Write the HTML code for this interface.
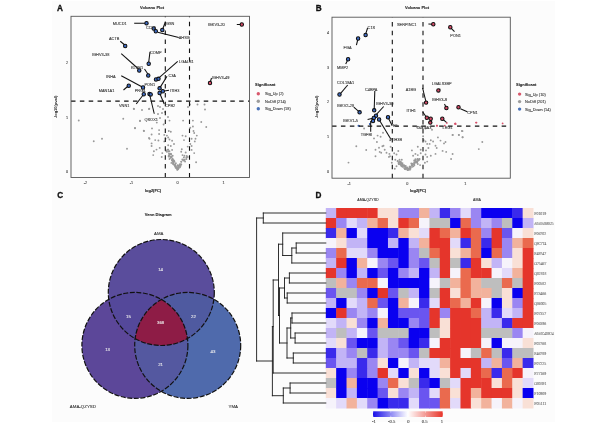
<!DOCTYPE html><html><head><meta charset="utf-8"><style>html,body{margin:0;padding:0;background:#fff;}svg{display:block;}</style></head><body>
<div style="position:absolute;left:0;top:0;width:600px;height:423px;will-change:transform">
<svg width="600" height="423" viewBox="0 0 600 423" font-family="'Liberation Sans', sans-serif">
<rect width="600" height="423" fill="#fff"/>
<rect x="52" y="1" width="503" height="421" fill="#fcfcfc"/>
<text transform="translate(57.00,11.00) scale(0.1)" font-size="82.0" text-anchor="start" fill="#111" stroke="#111" stroke-width="3" font-weight="bold">A</text>
<text transform="translate(315.80,11.00) scale(0.1)" font-size="82.0" text-anchor="start" fill="#111" stroke="#111" stroke-width="3" font-weight="bold">B</text>
<text transform="translate(57.30,198.30) scale(0.1)" font-size="82.0" text-anchor="start" fill="#111" stroke="#111" stroke-width="3" font-weight="bold">C</text>
<text transform="translate(315.50,198.00) scale(0.1)" font-size="82.0" text-anchor="start" fill="#111" stroke="#111" stroke-width="3" font-weight="bold">D</text>
<text transform="translate(152.00,8.50) scale(0.1)" font-size="40.0" text-anchor="middle" fill="#222" stroke="#222" stroke-width="0.9" font-weight="bold">Volcano Plot</text>
<circle cx="134.00" cy="109.00" r="0.95" fill="#999999"/>
<circle cx="142.00" cy="110.00" r="0.95" fill="#999999"/>
<circle cx="149.00" cy="109.00" r="0.95" fill="#999999"/>
<circle cx="140.00" cy="121.00" r="0.95" fill="#999999"/>
<circle cx="135.00" cy="128.00" r="0.95" fill="#999999"/>
<circle cx="144.00" cy="131.00" r="0.95" fill="#999999"/>
<circle cx="149.00" cy="138.00" r="0.95" fill="#999999"/>
<circle cx="158.00" cy="106.00" r="0.95" fill="#999999"/>
<circle cx="160.00" cy="107.00" r="0.95" fill="#999999"/>
<circle cx="163.00" cy="109.00" r="0.95" fill="#999999"/>
<circle cx="158.00" cy="114.00" r="0.95" fill="#999999"/>
<circle cx="162.00" cy="113.00" r="0.95" fill="#999999"/>
<circle cx="168.00" cy="117.00" r="0.95" fill="#999999"/>
<circle cx="188.00" cy="107.00" r="0.95" fill="#999999"/>
<circle cx="78.75" cy="120.50" r="0.95" fill="#999999"/>
<circle cx="93.75" cy="141.25" r="0.95" fill="#999999"/>
<circle cx="102.00" cy="138.75" r="0.95" fill="#999999"/>
<circle cx="127.00" cy="148.75" r="0.95" fill="#999999"/>
<circle cx="123.25" cy="118.75" r="0.95" fill="#999999"/>
<circle cx="133.75" cy="108.75" r="0.95" fill="#999999"/>
<circle cx="140.00" cy="120.75" r="0.95" fill="#999999"/>
<circle cx="135.00" cy="128.25" r="0.95" fill="#999999"/>
<circle cx="143.75" cy="130.75" r="0.95" fill="#999999"/>
<circle cx="149.25" cy="108.75" r="0.95" fill="#999999"/>
<circle cx="149.50" cy="138.75" r="0.95" fill="#999999"/>
<circle cx="197.50" cy="104.50" r="0.95" fill="#999999"/>
<circle cx="204.50" cy="104.50" r="0.95" fill="#999999"/>
<circle cx="205.00" cy="109.50" r="0.95" fill="#999999"/>
<circle cx="190.00" cy="104.50" r="0.95" fill="#999999"/>
<circle cx="201.25" cy="122.00" r="0.95" fill="#999999"/>
<circle cx="206.25" cy="127.00" r="0.95" fill="#999999"/>
<circle cx="160.00" cy="118.00" r="0.95" fill="#999999"/>
<circle cx="165.00" cy="112.00" r="0.95" fill="#999999"/>
<circle cx="152.00" cy="128.40" r="0.95" fill="#999999"/>
<circle cx="159.10" cy="130.10" r="0.95" fill="#999999"/>
<circle cx="151.60" cy="134.50" r="0.95" fill="#999999"/>
<circle cx="159.10" cy="134.00" r="0.95" fill="#999999"/>
<circle cx="155.20" cy="140.10" r="0.95" fill="#999999"/>
<circle cx="158.40" cy="140.50" r="0.95" fill="#999999"/>
<circle cx="151.60" cy="143.40" r="0.95" fill="#999999"/>
<circle cx="151.60" cy="146.00" r="0.95" fill="#999999"/>
<circle cx="153.90" cy="151.20" r="0.95" fill="#999999"/>
<circle cx="156.50" cy="149.60" r="0.95" fill="#999999"/>
<circle cx="159.70" cy="147.90" r="0.95" fill="#999999"/>
<circle cx="153.20" cy="155.10" r="0.95" fill="#999999"/>
<circle cx="162.30" cy="153.10" r="0.95" fill="#999999"/>
<circle cx="161.70" cy="157.00" r="0.95" fill="#999999"/>
<circle cx="156.80" cy="122.60" r="0.95" fill="#999999"/>
<circle cx="163.60" cy="124.50" r="0.95" fill="#999999"/>
<circle cx="169.50" cy="120.60" r="0.95" fill="#999999"/>
<circle cx="164.30" cy="134.90" r="0.95" fill="#999999"/>
<circle cx="168.80" cy="131.00" r="0.95" fill="#999999"/>
<circle cx="170.80" cy="131.70" r="0.95" fill="#999999"/>
<circle cx="166.90" cy="135.60" r="0.95" fill="#999999"/>
<circle cx="168.20" cy="137.50" r="0.95" fill="#999999"/>
<circle cx="169.50" cy="139.50" r="0.95" fill="#999999"/>
<circle cx="172.10" cy="140.80" r="0.95" fill="#999999"/>
<circle cx="165.60" cy="138.80" r="0.95" fill="#999999"/>
<circle cx="164.30" cy="141.40" r="0.95" fill="#999999"/>
<circle cx="168.20" cy="145.30" r="0.95" fill="#999999"/>
<circle cx="170.80" cy="146.00" r="0.95" fill="#999999"/>
<circle cx="174.00" cy="144.00" r="0.95" fill="#999999"/>
<circle cx="172.10" cy="149.90" r="0.95" fill="#999999"/>
<circle cx="169.50" cy="151.20" r="0.95" fill="#999999"/>
<circle cx="166.90" cy="151.80" r="0.95" fill="#999999"/>
<circle cx="170.80" cy="153.80" r="0.95" fill="#999999"/>
<circle cx="168.80" cy="155.70" r="0.95" fill="#999999"/>
<circle cx="172.70" cy="155.70" r="0.95" fill="#999999"/>
<circle cx="170.80" cy="157.70" r="0.95" fill="#999999"/>
<circle cx="169.50" cy="159.00" r="0.95" fill="#999999"/>
<circle cx="172.10" cy="160.30" r="0.95" fill="#999999"/>
<circle cx="174.00" cy="161.60" r="0.95" fill="#999999"/>
<circle cx="171.40" cy="162.90" r="0.95" fill="#999999"/>
<circle cx="173.40" cy="164.20" r="0.95" fill="#999999"/>
<circle cx="175.30" cy="165.50" r="0.95" fill="#999999"/>
<circle cx="176.00" cy="167.40" r="0.95" fill="#999999"/>
<circle cx="177.30" cy="169.40" r="0.95" fill="#999999"/>
<circle cx="178.60" cy="168.10" r="0.95" fill="#999999"/>
<circle cx="180.50" cy="166.10" r="0.95" fill="#999999"/>
<circle cx="179.90" cy="164.20" r="0.95" fill="#999999"/>
<circle cx="181.20" cy="161.60" r="0.95" fill="#999999"/>
<circle cx="183.10" cy="160.30" r="0.95" fill="#999999"/>
<circle cx="185.10" cy="161.60" r="0.95" fill="#999999"/>
<circle cx="186.40" cy="159.00" r="0.95" fill="#999999"/>
<circle cx="184.40" cy="155.70" r="0.95" fill="#999999"/>
<circle cx="182.50" cy="155.10" r="0.95" fill="#999999"/>
<circle cx="181.20" cy="151.80" r="0.95" fill="#999999"/>
<circle cx="181.80" cy="149.20" r="0.95" fill="#999999"/>
<circle cx="185.70" cy="152.50" r="0.95" fill="#999999"/>
<circle cx="187.70" cy="157.00" r="0.95" fill="#999999"/>
<circle cx="182.50" cy="135.60" r="0.95" fill="#999999"/>
<circle cx="185.70" cy="136.20" r="0.95" fill="#999999"/>
<circle cx="184.00" cy="140.10" r="0.95" fill="#999999"/>
<circle cx="190.30" cy="127.80" r="0.95" fill="#999999"/>
<circle cx="192.90" cy="126.50" r="0.95" fill="#999999"/>
<circle cx="193.50" cy="131.00" r="0.95" fill="#999999"/>
<circle cx="194.20" cy="133.00" r="0.95" fill="#999999"/>
<circle cx="196.80" cy="135.60" r="0.95" fill="#999999"/>
<circle cx="195.50" cy="138.80" r="0.95" fill="#999999"/>
<circle cx="194.80" cy="141.40" r="0.95" fill="#999999"/>
<circle cx="191.60" cy="138.80" r="0.95" fill="#999999"/>
<circle cx="190.30" cy="144.00" r="0.95" fill="#999999"/>
<circle cx="191.60" cy="146.00" r="0.95" fill="#999999"/>
<circle cx="187.70" cy="146.60" r="0.95" fill="#999999"/>
<circle cx="191.60" cy="149.90" r="0.95" fill="#999999"/>
<circle cx="194.20" cy="153.10" r="0.95" fill="#999999"/>
<circle cx="196.10" cy="162.20" r="0.95" fill="#999999"/>
<circle cx="183.10" cy="120.60" r="0.95" fill="#999999"/>
<circle cx="192.90" cy="120.60" r="0.95" fill="#999999"/>
<circle cx="169.64" cy="154.21" r="0.95" fill="#999999"/>
<circle cx="173.74" cy="160.43" r="0.95" fill="#999999"/>
<circle cx="168.22" cy="149.67" r="0.95" fill="#999999"/>
<circle cx="171.05" cy="154.38" r="0.95" fill="#999999"/>
<circle cx="175.71" cy="166.23" r="0.95" fill="#999999"/>
<circle cx="169.01" cy="153.75" r="0.95" fill="#999999"/>
<circle cx="173.27" cy="160.35" r="0.95" fill="#999999"/>
<circle cx="168.50" cy="151.44" r="0.95" fill="#999999"/>
<circle cx="168.66" cy="156.60" r="0.95" fill="#999999"/>
<circle cx="172.66" cy="159.89" r="0.95" fill="#999999"/>
<circle cx="175.85" cy="163.32" r="0.95" fill="#999999"/>
<circle cx="175.23" cy="166.26" r="0.95" fill="#999999"/>
<circle cx="174.94" cy="165.82" r="0.95" fill="#999999"/>
<circle cx="170.77" cy="153.97" r="0.95" fill="#999999"/>
<circle cx="172.94" cy="161.92" r="0.95" fill="#999999"/>
<circle cx="170.57" cy="157.54" r="0.95" fill="#999999"/>
<circle cx="174.43" cy="161.54" r="0.95" fill="#999999"/>
<circle cx="177.89" cy="168.83" r="0.95" fill="#999999"/>
<circle cx="172.97" cy="163.62" r="0.95" fill="#999999"/>
<circle cx="178.42" cy="168.49" r="0.95" fill="#999999"/>
<circle cx="173.57" cy="164.36" r="0.95" fill="#999999"/>
<circle cx="172.33" cy="159.85" r="0.95" fill="#999999"/>
<circle cx="177.53" cy="165.24" r="0.95" fill="#999999"/>
<circle cx="175.12" cy="164.37" r="0.95" fill="#999999"/>
<circle cx="170.95" cy="156.48" r="0.95" fill="#999999"/>
<circle cx="167.83" cy="149.75" r="0.95" fill="#999999"/>
<circle cx="174.00" cy="164.56" r="0.95" fill="#999999"/>
<circle cx="177.31" cy="169.83" r="0.95" fill="#999999"/>
<circle cx="168.90" cy="156.12" r="0.95" fill="#999999"/>
<circle cx="166.36" cy="150.38" r="0.95" fill="#999999"/>
<circle cx="172.31" cy="160.50" r="0.95" fill="#999999"/>
<circle cx="175.52" cy="167.59" r="0.95" fill="#999999"/>
<circle cx="176.02" cy="166.94" r="0.95" fill="#999999"/>
<circle cx="172.92" cy="160.11" r="0.95" fill="#999999"/>
<circle cx="173.26" cy="161.68" r="0.95" fill="#999999"/>
<circle cx="172.10" cy="160.16" r="0.95" fill="#999999"/>
<circle cx="168.86" cy="155.66" r="0.95" fill="#999999"/>
<circle cx="172.63" cy="158.73" r="0.95" fill="#999999"/>
<circle cx="171.62" cy="156.74" r="0.95" fill="#999999"/>
<circle cx="173.89" cy="160.64" r="0.95" fill="#999999"/>
<circle cx="173.48" cy="162.35" r="0.95" fill="#999999"/>
<circle cx="171.36" cy="157.27" r="0.95" fill="#999999"/>
<circle cx="165.83" cy="150.84" r="0.95" fill="#999999"/>
<circle cx="176.32" cy="168.20" r="0.95" fill="#999999"/>
<circle cx="172.65" cy="160.93" r="0.95" fill="#999999"/>
<circle cx="179.79" cy="165.16" r="0.95" fill="#999999"/>
<circle cx="179.71" cy="165.75" r="0.95" fill="#999999"/>
<circle cx="177.92" cy="169.21" r="0.95" fill="#999999"/>
<circle cx="179.36" cy="165.70" r="0.95" fill="#999999"/>
<circle cx="178.65" cy="165.74" r="0.95" fill="#999999"/>
<circle cx="182.32" cy="159.50" r="0.95" fill="#999999"/>
<circle cx="181.27" cy="164.51" r="0.95" fill="#999999"/>
<circle cx="183.85" cy="157.49" r="0.95" fill="#999999"/>
<circle cx="184.10" cy="160.43" r="0.95" fill="#999999"/>
<circle cx="178.35" cy="166.15" r="0.95" fill="#999999"/>
<circle cx="179.98" cy="167.33" r="0.95" fill="#999999"/>
<circle cx="178.44" cy="167.35" r="0.95" fill="#999999"/>
<circle cx="183.81" cy="160.28" r="0.95" fill="#999999"/>
<circle cx="178.02" cy="168.02" r="0.95" fill="#999999"/>
<circle cx="179.37" cy="165.28" r="0.95" fill="#999999"/>
<circle cx="180.81" cy="164.55" r="0.95" fill="#999999"/>
<circle cx="177.44" cy="168.04" r="0.95" fill="#999999"/>
<circle cx="186.34" cy="157.40" r="0.95" fill="#999999"/>
<circle cx="186.77" cy="155.98" r="0.95" fill="#999999"/>
<circle cx="184.78" cy="159.70" r="0.95" fill="#999999"/>
<circle cx="181.32" cy="161.87" r="0.95" fill="#999999"/>
<circle cx="178.22" cy="166.26" r="0.95" fill="#999999"/>
<line x1="165.30" y1="177.50" x2="165.30" y2="16.30" stroke="#111" stroke-width="1.1" stroke-dasharray="4.5,4.4"/>
<line x1="189.50" y1="177.50" x2="189.50" y2="16.30" stroke="#111" stroke-width="1.1" stroke-dasharray="4.5,4.4"/>
<line x1="71.00" y1="101.10" x2="249.50" y2="101.10" stroke="#111" stroke-width="1.1" stroke-dasharray="4.5,4.35"/>
<rect x="71" y="16.3" width="178.5" height="161.2" fill="none" stroke="#555" stroke-width="0.9"/>
<text transform="translate(85.50,184.30) scale(0.1)" font-size="38.0" text-anchor="middle" fill="#444" stroke="#444" stroke-width="0.9">-2</text>
<text transform="translate(131.50,184.30) scale(0.1)" font-size="38.0" text-anchor="middle" fill="#444" stroke="#444" stroke-width="0.9">-1</text>
<text transform="translate(177.50,184.30) scale(0.1)" font-size="38.0" text-anchor="middle" fill="#444" stroke="#444" stroke-width="0.9">0</text>
<text transform="translate(223.50,184.30) scale(0.1)" font-size="38.0" text-anchor="middle" fill="#444" stroke="#444" stroke-width="0.9">1</text>
<text transform="translate(68.00,173.40) scale(0.1)" font-size="38.0" text-anchor="end" fill="#444" stroke="#444" stroke-width="0.9">0</text>
<text transform="translate(68.00,118.90) scale(0.1)" font-size="38.0" text-anchor="end" fill="#444" stroke="#444" stroke-width="0.9">1</text>
<text transform="translate(68.00,64.40) scale(0.1)" font-size="38.0" text-anchor="end" fill="#444" stroke="#444" stroke-width="0.9">2</text>
<text transform="translate(153.00,191.50) scale(0.1)" font-size="40.0" text-anchor="middle" fill="#222" stroke="#222" stroke-width="0.9" font-weight="bold">log2(FC)</text>
<text x="0" y="0" font-size="4" font-weight="bold" text-anchor="middle" fill="#222" transform="translate(57.2,107) rotate(-90)">-log10(pval)</text>
<line x1="134.20" y1="23.25" x2="145.00" y2="23.25" stroke="#111" stroke-width="1.05"/>
<line x1="165.50" y1="21.75" x2="162.30" y2="30.00" stroke="#111" stroke-width="1.05"/>
<line x1="157.70" y1="32.25" x2="178.75" y2="37.50" stroke="#111" stroke-width="1.05"/>
<line x1="120.25" y1="41.25" x2="124.75" y2="45.00" stroke="#111" stroke-width="1.05"/>
<line x1="150.00" y1="51.75" x2="148.70" y2="62.25" stroke="#111" stroke-width="1.05"/>
<line x1="121.25" y1="53.70" x2="138.50" y2="69.00" stroke="#111" stroke-width="1.05"/>
<line x1="144.50" y1="69.00" x2="148.25" y2="74.50" stroke="#111" stroke-width="1.05"/>
<line x1="121.25" y1="75.75" x2="142.25" y2="87.00" stroke="#111" stroke-width="1.05"/>
<line x1="177.70" y1="61.40" x2="159.20" y2="77.70" stroke="#111" stroke-width="1.05"/>
<line x1="123.50" y1="90.00" x2="128.75" y2="85.50" stroke="#111" stroke-width="1.05"/>
<line x1="136.25" y1="104.00" x2="143.50" y2="94.50" stroke="#111" stroke-width="1.05"/>
<line x1="149.50" y1="94.00" x2="154.25" y2="113.75" stroke="#111" stroke-width="1.05"/>
<line x1="167.00" y1="76.30" x2="160.00" y2="87.60" stroke="#111" stroke-width="1.05"/>
<line x1="169.00" y1="90.20" x2="162.80" y2="91.20" stroke="#111" stroke-width="1.05"/>
<line x1="159.60" y1="93.00" x2="164.20" y2="104.00" stroke="#111" stroke-width="1.05"/>
<line x1="236.80" y1="24.50" x2="241.80" y2="24.50" stroke="#111" stroke-width="1.05"/>
<line x1="210.00" y1="83.00" x2="211.50" y2="78.00" stroke="#111" stroke-width="1.05"/>
<circle cx="146.50" cy="23.25" r="1.7" fill="#3f6cc4" stroke="#0d0d0d" stroke-width="1.05"/>
<circle cx="153.70" cy="28.50" r="1.7" fill="#3f6cc4" stroke="#0d0d0d" stroke-width="1.05"/>
<circle cx="155.80" cy="31.20" r="1.7" fill="#3f6cc4" stroke="#0d0d0d" stroke-width="1.05"/>
<circle cx="162.30" cy="30.00" r="1.7" fill="#3f6cc4" stroke="#0d0d0d" stroke-width="1.05"/>
<circle cx="125.20" cy="46.00" r="1.7" fill="#3f6cc4" stroke="#0d0d0d" stroke-width="1.05"/>
<circle cx="148.70" cy="63.75" r="1.7" fill="#3f6cc4" stroke="#0d0d0d" stroke-width="1.05"/>
<circle cx="139.25" cy="70.50" r="1.7" fill="#3f6cc4" stroke="#0d0d0d" stroke-width="1.05"/>
<circle cx="148.25" cy="75.45" r="1.7" fill="#3f6cc4" stroke="#0d0d0d" stroke-width="1.05"/>
<circle cx="156.00" cy="79.40" r="1.7" fill="#3f6cc4" stroke="#0d0d0d" stroke-width="1.05"/>
<circle cx="158.50" cy="78.80" r="1.7" fill="#3f6cc4" stroke="#0d0d0d" stroke-width="1.05"/>
<circle cx="128.75" cy="85.70" r="1.7" fill="#3f6cc4" stroke="#0d0d0d" stroke-width="1.05"/>
<circle cx="143.00" cy="87.50" r="1.7" fill="#3f6cc4" stroke="#0d0d0d" stroke-width="1.05"/>
<circle cx="159.60" cy="88.30" r="1.7" fill="#3f6cc4" stroke="#0d0d0d" stroke-width="1.05"/>
<circle cx="143.75" cy="94.25" r="1.7" fill="#3f6cc4" stroke="#0d0d0d" stroke-width="1.05"/>
<circle cx="149.50" cy="94.00" r="1.7" fill="#3f6cc4" stroke="#0d0d0d" stroke-width="1.05"/>
<circle cx="162.80" cy="91.20" r="1.7" fill="#3f6cc4" stroke="#0d0d0d" stroke-width="1.05"/>
<circle cx="159.60" cy="93.00" r="1.7" fill="#3f6cc4" stroke="#0d0d0d" stroke-width="1.05"/>
<circle cx="150.70" cy="94.40" r="1.7" fill="#3f6cc4" stroke="#0d0d0d" stroke-width="1.05"/>
<circle cx="241.80" cy="24.50" r="1.7" fill="#d84a68" stroke="#0d0d0d" stroke-width="1.05"/>
<circle cx="210.00" cy="83.00" r="1.7" fill="#d84a68" stroke="#0d0d0d" stroke-width="1.05"/>
<text transform="translate(112.80,25.20) scale(0.1)" font-size="39.0" text-anchor="start" fill="#333" stroke="#333" stroke-width="0.9">MUCD1</text>
<text transform="translate(146.00,28.60) scale(0.1)" font-size="39.0" text-anchor="start" fill="#333" stroke="#333" stroke-width="0.9">CCL5</text>
<text transform="translate(166.00,25.20) scale(0.1)" font-size="39.0" text-anchor="start" fill="#333" stroke="#333" stroke-width="0.9">GSN</text>
<text transform="translate(178.75,39.40) scale(0.1)" font-size="39.0" text-anchor="start" fill="#333" stroke="#333" stroke-width="0.9">AHSG</text>
<text transform="translate(109.00,40.40) scale(0.1)" font-size="39.0" text-anchor="start" fill="#333" stroke="#333" stroke-width="0.9">ACTB</text>
<text transform="translate(150.00,53.90) scale(0.1)" font-size="39.0" text-anchor="start" fill="#333" stroke="#333" stroke-width="0.9">COMP</text>
<text transform="translate(92.00,55.60) scale(0.1)" font-size="39.0" text-anchor="start" fill="#333" stroke="#333" stroke-width="0.9">IGHV3-38</text>
<text transform="translate(131.00,69.00) scale(0.1)" font-size="39.0" text-anchor="start" fill="#333" stroke="#333" stroke-width="0.9">KLKB1</text>
<text transform="translate(106.25,77.90) scale(0.1)" font-size="39.0" text-anchor="start" fill="#333" stroke="#333" stroke-width="0.9">INHA</text>
<text transform="translate(179.00,62.80) scale(0.1)" font-size="39.0" text-anchor="start" fill="#333" stroke="#333" stroke-width="0.9">LGALS1</text>
<text transform="translate(168.40,77.40) scale(0.1)" font-size="39.0" text-anchor="start" fill="#333" stroke="#333" stroke-width="0.9">C3A</text>
<text transform="translate(144.50,85.60) scale(0.1)" font-size="39.0" text-anchor="start" fill="#333" stroke="#333" stroke-width="0.9">PON1</text>
<text transform="translate(98.75,92.20) scale(0.1)" font-size="39.0" text-anchor="start" fill="#333" stroke="#333" stroke-width="0.9">MAN1A1</text>
<text transform="translate(134.75,92.20) scale(0.1)" font-size="39.0" text-anchor="start" fill="#333" stroke="#333" stroke-width="0.9">PRG4</text>
<text transform="translate(169.90,92.10) scale(0.1)" font-size="39.0" text-anchor="start" fill="#333" stroke="#333" stroke-width="0.9">ITIH3</text>
<text transform="translate(165.00,106.80) scale(0.1)" font-size="39.0" text-anchor="start" fill="#333" stroke="#333" stroke-width="0.9">CPB2</text>
<text transform="translate(119.00,106.90) scale(0.1)" font-size="39.0" text-anchor="start" fill="#333" stroke="#333" stroke-width="0.9">VNN1</text>
<text transform="translate(144.50,121.10) scale(0.1)" font-size="39.0" text-anchor="start" fill="#333" stroke="#333" stroke-width="0.9">QSOX1</text>
<text transform="translate(207.70,26.30) scale(0.1)" font-size="39.0" text-anchor="start" fill="#333" stroke="#333" stroke-width="0.9">IGKV3-20</text>
<text transform="translate(212.00,79.20) scale(0.1)" font-size="39.0" text-anchor="start" fill="#333" stroke="#333" stroke-width="0.9">IGHV3-49</text>
<text transform="translate(255.00,85.60) scale(0.1)" font-size="40.0" text-anchor="start" fill="#222" stroke="#222" stroke-width="0.9" font-weight="bold">Significant</text>
<circle cx="258.30" cy="93.80" r="1.7" fill="#d8586c"/>
<text transform="translate(265.00,95.20) scale(0.1)" font-size="39.0" text-anchor="start" fill="#333" stroke="#333" stroke-width="0.9">Sig_Up (2)</text>
<circle cx="258.30" cy="101.30" r="1.7" fill="#9c9c9c"/>
<text transform="translate(265.00,102.70) scale(0.1)" font-size="39.0" text-anchor="start" fill="#333" stroke="#333" stroke-width="0.9">NoDiff (214)</text>
<circle cx="258.30" cy="108.80" r="1.7" fill="#4a72b8"/>
<text transform="translate(265.00,110.20) scale(0.1)" font-size="39.0" text-anchor="start" fill="#333" stroke="#333" stroke-width="0.9">Sig_Down (18)</text>
<text transform="translate(417.00,8.50) scale(0.1)" font-size="40.0" text-anchor="middle" fill="#222" stroke="#222" stroke-width="0.9" font-weight="bold">Volcano Plot</text>
<circle cx="348.50" cy="162.60" r="0.95" fill="#999999"/>
<circle cx="356.30" cy="146.20" r="0.95" fill="#999999"/>
<circle cx="366.20" cy="150.00" r="0.95" fill="#999999"/>
<circle cx="364.10" cy="128.50" r="0.95" fill="#999999"/>
<circle cx="374.00" cy="138.40" r="0.95" fill="#999999"/>
<circle cx="376.90" cy="142.00" r="0.95" fill="#999999"/>
<circle cx="377.60" cy="135.60" r="0.95" fill="#999999"/>
<circle cx="375.50" cy="149.80" r="0.95" fill="#999999"/>
<circle cx="379.00" cy="147.70" r="0.95" fill="#999999"/>
<circle cx="379.70" cy="151.90" r="0.95" fill="#999999"/>
<circle cx="375.50" cy="156.20" r="0.95" fill="#999999"/>
<circle cx="440.50" cy="140.60" r="0.95" fill="#999999"/>
<circle cx="452.60" cy="134.90" r="0.95" fill="#999999"/>
<circle cx="458.90" cy="134.90" r="0.95" fill="#999999"/>
<circle cx="462.50" cy="131.10" r="0.95" fill="#999999"/>
<circle cx="462.50" cy="137.30" r="0.95" fill="#999999"/>
<circle cx="482.30" cy="142.00" r="0.95" fill="#999999"/>
<circle cx="478.80" cy="149.10" r="0.95" fill="#999999"/>
<circle cx="445.50" cy="142.00" r="0.95" fill="#999999"/>
<circle cx="444.00" cy="143.40" r="0.95" fill="#999999"/>
<circle cx="442.60" cy="150.90" r="0.95" fill="#999999"/>
<circle cx="446.20" cy="151.90" r="0.95" fill="#999999"/>
<circle cx="452.60" cy="154.00" r="0.95" fill="#999999"/>
<circle cx="451.10" cy="159.00" r="0.95" fill="#999999"/>
<circle cx="461.90" cy="131.00" r="0.95" fill="#999999"/>
<circle cx="452.70" cy="134.90" r="0.95" fill="#999999"/>
<circle cx="458.80" cy="134.90" r="0.95" fill="#999999"/>
<circle cx="462.70" cy="137.20" r="0.95" fill="#999999"/>
<circle cx="383.00" cy="132.70" r="0.95" fill="#999999"/>
<circle cx="380.60" cy="136.80" r="0.95" fill="#999999"/>
<circle cx="382.40" cy="146.30" r="0.95" fill="#999999"/>
<circle cx="383.50" cy="145.70" r="0.95" fill="#999999"/>
<circle cx="384.70" cy="149.80" r="0.95" fill="#999999"/>
<circle cx="381.20" cy="152.70" r="0.95" fill="#999999"/>
<circle cx="386.50" cy="152.70" r="0.95" fill="#999999"/>
<circle cx="389.40" cy="153.90" r="0.95" fill="#999999"/>
<circle cx="388.90" cy="156.90" r="0.95" fill="#999999"/>
<circle cx="390.00" cy="156.30" r="0.95" fill="#999999"/>
<circle cx="394.20" cy="153.30" r="0.95" fill="#999999"/>
<circle cx="396.50" cy="154.50" r="0.95" fill="#999999"/>
<circle cx="398.30" cy="151.00" r="0.95" fill="#999999"/>
<circle cx="390.60" cy="146.80" r="0.95" fill="#999999"/>
<circle cx="395.30" cy="159.80" r="0.95" fill="#999999"/>
<circle cx="397.70" cy="161.00" r="0.95" fill="#999999"/>
<circle cx="399.50" cy="159.80" r="0.95" fill="#999999"/>
<circle cx="401.80" cy="159.80" r="0.95" fill="#999999"/>
<circle cx="391.80" cy="162.80" r="0.95" fill="#999999"/>
<circle cx="396.50" cy="166.30" r="0.95" fill="#999999"/>
<circle cx="394.80" cy="168.70" r="0.95" fill="#999999"/>
<circle cx="401.30" cy="165.70" r="0.95" fill="#999999"/>
<circle cx="403.00" cy="166.90" r="0.95" fill="#999999"/>
<circle cx="404.20" cy="168.10" r="0.95" fill="#999999"/>
<circle cx="406.00" cy="169.30" r="0.95" fill="#999999"/>
<circle cx="407.70" cy="169.90" r="0.95" fill="#999999"/>
<circle cx="409.50" cy="168.70" r="0.95" fill="#999999"/>
<circle cx="410.70" cy="166.90" r="0.95" fill="#999999"/>
<circle cx="412.50" cy="165.10" r="0.95" fill="#999999"/>
<circle cx="411.30" cy="163.40" r="0.95" fill="#999999"/>
<circle cx="414.20" cy="160.40" r="0.95" fill="#999999"/>
<circle cx="415.40" cy="159.20" r="0.95" fill="#999999"/>
<circle cx="416.60" cy="161.60" r="0.95" fill="#999999"/>
<circle cx="417.80" cy="164.00" r="0.95" fill="#999999"/>
<circle cx="420.10" cy="165.10" r="0.95" fill="#999999"/>
<circle cx="413.10" cy="155.70" r="0.95" fill="#999999"/>
<circle cx="415.40" cy="153.90" r="0.95" fill="#999999"/>
<circle cx="417.80" cy="155.10" r="0.95" fill="#999999"/>
<circle cx="411.90" cy="150.40" r="0.95" fill="#999999"/>
<circle cx="417.80" cy="146.80" r="0.95" fill="#999999"/>
<circle cx="420.70" cy="149.80" r="0.95" fill="#999999"/>
<circle cx="420.70" cy="153.30" r="0.95" fill="#999999"/>
<circle cx="425.50" cy="154.50" r="0.95" fill="#999999"/>
<circle cx="427.20" cy="156.90" r="0.95" fill="#999999"/>
<circle cx="430.80" cy="155.70" r="0.95" fill="#999999"/>
<circle cx="426.00" cy="150.40" r="0.95" fill="#999999"/>
<circle cx="428.40" cy="148.00" r="0.95" fill="#999999"/>
<circle cx="427.20" cy="143.90" r="0.95" fill="#999999"/>
<circle cx="429.60" cy="143.90" r="0.95" fill="#999999"/>
<circle cx="430.80" cy="140.30" r="0.95" fill="#999999"/>
<circle cx="433.10" cy="141.50" r="0.95" fill="#999999"/>
<circle cx="435.50" cy="145.70" r="0.95" fill="#999999"/>
<circle cx="436.70" cy="148.00" r="0.95" fill="#999999"/>
<circle cx="435.50" cy="153.90" r="0.95" fill="#999999"/>
<circle cx="437.90" cy="137.40" r="0.95" fill="#999999"/>
<circle cx="432.00" cy="129.70" r="0.95" fill="#999999"/>
<circle cx="423.70" cy="140.30" r="0.95" fill="#999999"/>
<circle cx="425.50" cy="141.50" r="0.95" fill="#999999"/>
<circle cx="424.90" cy="162.80" r="0.95" fill="#999999"/>
<circle cx="427.20" cy="161.60" r="0.95" fill="#999999"/>
<circle cx="423.10" cy="136.20" r="0.95" fill="#999999"/>
<circle cx="417.80" cy="126.80" r="0.95" fill="#999999"/>
<circle cx="420.10" cy="128.00" r="0.95" fill="#999999"/>
<circle cx="422.50" cy="128.00" r="0.95" fill="#999999"/>
<circle cx="425.50" cy="128.50" r="0.95" fill="#999999"/>
<circle cx="390.00" cy="140.30" r="0.95" fill="#999999"/>
<circle cx="391.80" cy="139.20" r="0.95" fill="#999999"/>
<circle cx="402.51" cy="163.30" r="0.95" fill="#999999"/>
<circle cx="407.71" cy="170.16" r="0.95" fill="#999999"/>
<circle cx="408.27" cy="169.34" r="0.95" fill="#999999"/>
<circle cx="399.85" cy="161.38" r="0.95" fill="#999999"/>
<circle cx="402.19" cy="164.45" r="0.95" fill="#999999"/>
<circle cx="404.04" cy="165.56" r="0.95" fill="#999999"/>
<circle cx="401.33" cy="165.53" r="0.95" fill="#999999"/>
<circle cx="404.14" cy="165.49" r="0.95" fill="#999999"/>
<circle cx="400.88" cy="164.28" r="0.95" fill="#999999"/>
<circle cx="401.42" cy="164.30" r="0.95" fill="#999999"/>
<circle cx="407.22" cy="167.36" r="0.95" fill="#999999"/>
<circle cx="405.75" cy="166.04" r="0.95" fill="#999999"/>
<circle cx="400.75" cy="164.23" r="0.95" fill="#999999"/>
<circle cx="402.73" cy="165.99" r="0.95" fill="#999999"/>
<circle cx="397.68" cy="161.19" r="0.95" fill="#999999"/>
<circle cx="398.83" cy="164.04" r="0.95" fill="#999999"/>
<circle cx="405.45" cy="168.84" r="0.95" fill="#999999"/>
<circle cx="401.29" cy="164.20" r="0.95" fill="#999999"/>
<circle cx="405.08" cy="166.87" r="0.95" fill="#999999"/>
<circle cx="400.21" cy="162.70" r="0.95" fill="#999999"/>
<circle cx="404.65" cy="166.18" r="0.95" fill="#999999"/>
<circle cx="398.75" cy="162.36" r="0.95" fill="#999999"/>
<circle cx="405.29" cy="166.57" r="0.95" fill="#999999"/>
<circle cx="406.58" cy="168.26" r="0.95" fill="#999999"/>
<circle cx="402.34" cy="165.43" r="0.95" fill="#999999"/>
<circle cx="403.37" cy="165.28" r="0.95" fill="#999999"/>
<circle cx="401.31" cy="164.39" r="0.95" fill="#999999"/>
<circle cx="399.42" cy="162.41" r="0.95" fill="#999999"/>
<circle cx="408.23" cy="168.76" r="0.95" fill="#999999"/>
<circle cx="407.95" cy="168.66" r="0.95" fill="#999999"/>
<circle cx="402.05" cy="166.40" r="0.95" fill="#999999"/>
<circle cx="406.12" cy="167.94" r="0.95" fill="#999999"/>
<circle cx="405.71" cy="167.48" r="0.95" fill="#999999"/>
<circle cx="400.19" cy="161.74" r="0.95" fill="#999999"/>
<circle cx="401.11" cy="162.15" r="0.95" fill="#999999"/>
<circle cx="398.62" cy="163.57" r="0.95" fill="#999999"/>
<circle cx="399.18" cy="164.18" r="0.95" fill="#999999"/>
<circle cx="401.12" cy="163.35" r="0.95" fill="#999999"/>
<circle cx="407.88" cy="168.86" r="0.95" fill="#999999"/>
<circle cx="404.80" cy="168.98" r="0.95" fill="#999999"/>
<circle cx="414.78" cy="162.92" r="0.95" fill="#999999"/>
<circle cx="418.29" cy="159.96" r="0.95" fill="#999999"/>
<circle cx="412.08" cy="166.90" r="0.95" fill="#999999"/>
<circle cx="409.94" cy="166.49" r="0.95" fill="#999999"/>
<circle cx="416.15" cy="162.35" r="0.95" fill="#999999"/>
<circle cx="412.10" cy="165.23" r="0.95" fill="#999999"/>
<circle cx="411.77" cy="164.98" r="0.95" fill="#999999"/>
<circle cx="419.42" cy="158.92" r="0.95" fill="#999999"/>
<circle cx="410.50" cy="168.69" r="0.95" fill="#999999"/>
<circle cx="416.14" cy="161.87" r="0.95" fill="#999999"/>
<circle cx="416.91" cy="161.44" r="0.95" fill="#999999"/>
<circle cx="409.89" cy="169.85" r="0.95" fill="#999999"/>
<circle cx="414.04" cy="164.32" r="0.95" fill="#999999"/>
<circle cx="409.54" cy="167.04" r="0.95" fill="#999999"/>
<circle cx="414.47" cy="162.33" r="0.95" fill="#999999"/>
<circle cx="417.65" cy="161.22" r="0.95" fill="#999999"/>
<circle cx="416.20" cy="162.38" r="0.95" fill="#999999"/>
<circle cx="414.32" cy="162.31" r="0.95" fill="#999999"/>
<circle cx="408.22" cy="169.44" r="0.95" fill="#999999"/>
<circle cx="409.65" cy="167.51" r="0.95" fill="#999999"/>
<circle cx="416.22" cy="161.89" r="0.95" fill="#999999"/>
<circle cx="414.05" cy="164.17" r="0.95" fill="#999999"/>
<circle cx="418.98" cy="160.12" r="0.95" fill="#999999"/>
<circle cx="414.44" cy="165.08" r="0.95" fill="#999999"/>
<circle cx="413.50" cy="166.30" r="0.95" fill="#999999"/>
<circle cx="412.80" cy="163.75" r="0.95" fill="#999999"/>
<circle cx="417.14" cy="162.49" r="0.95" fill="#999999"/>
<circle cx="417.47" cy="159.01" r="0.95" fill="#999999"/>
<circle cx="410.17" cy="167.39" r="0.95" fill="#999999"/>
<circle cx="419.50" cy="159.11" r="0.95" fill="#999999"/>
<circle cx="417.82" cy="159.43" r="0.95" fill="#999999"/>
<circle cx="415.51" cy="160.27" r="0.95" fill="#999999"/>
<circle cx="417.38" cy="159.65" r="0.95" fill="#999999"/>
<circle cx="415.49" cy="161.85" r="0.95" fill="#999999"/>
<circle cx="431.30" cy="122.60" r="0.9" fill="#d8506a"/>
<circle cx="437.00" cy="125.70" r="0.9" fill="#d8506a"/>
<circle cx="444.80" cy="125.70" r="0.9" fill="#d8506a"/>
<circle cx="455.40" cy="123.50" r="0.9" fill="#d8506a"/>
<circle cx="476.00" cy="122.60" r="0.9" fill="#d8506a"/>
<circle cx="455.70" cy="124.10" r="0.9" fill="#d8506a"/>
<circle cx="476.50" cy="122.60" r="0.9" fill="#d8506a"/>
<circle cx="502.60" cy="123.40" r="0.9" fill="#d8506a"/>
<circle cx="446.80" cy="122.90" r="0.9" fill="#d8506a"/>
<circle cx="436.90" cy="125.70" r="0.9" fill="#d8506a"/>
<circle cx="454.80" cy="123.80" r="0.9" fill="#d8506a"/>
<circle cx="369.80" cy="124.00" r="0.9" fill="#3a62b0"/>
<circle cx="359.10" cy="126.00" r="0.9" fill="#3a62b0"/>
<circle cx="370.20" cy="124.10" r="0.9" fill="#3a62b0"/>
<circle cx="358.40" cy="125.70" r="0.9" fill="#3a62b0"/>
<line x1="392.30" y1="178.20" x2="392.30" y2="17.20" stroke="#111" stroke-width="1.1" stroke-dasharray="4.5,4.43"/>
<line x1="423.00" y1="178.20" x2="423.00" y2="17.20" stroke="#111" stroke-width="1.1" stroke-dasharray="4.5,4.43"/>
<line x1="332.00" y1="126.10" x2="510.30" y2="126.10" stroke="#111" stroke-width="1.1" stroke-dasharray="4.5,4.43"/>
<rect x="332" y="17.2" width="178.3" height="161.0" fill="none" stroke="#555" stroke-width="0.9"/>
<text transform="translate(349.20,184.50) scale(0.1)" font-size="38.0" text-anchor="middle" fill="#444" stroke="#444" stroke-width="0.9">-1</text>
<text transform="translate(407.20,184.50) scale(0.1)" font-size="38.0" text-anchor="middle" fill="#444" stroke="#444" stroke-width="0.9">0</text>
<text transform="translate(465.20,184.50) scale(0.1)" font-size="38.0" text-anchor="middle" fill="#444" stroke="#444" stroke-width="0.9">1</text>
<text transform="translate(329.00,172.90) scale(0.1)" font-size="38.0" text-anchor="end" fill="#444" stroke="#444" stroke-width="0.9">0</text>
<text transform="translate(329.00,138.15) scale(0.1)" font-size="38.0" text-anchor="end" fill="#444" stroke="#444" stroke-width="0.9">1</text>
<text transform="translate(329.00,103.40) scale(0.1)" font-size="38.0" text-anchor="end" fill="#444" stroke="#444" stroke-width="0.9">2</text>
<text transform="translate(329.00,68.65) scale(0.1)" font-size="38.0" text-anchor="end" fill="#444" stroke="#444" stroke-width="0.9">3</text>
<text transform="translate(329.00,33.90) scale(0.1)" font-size="38.0" text-anchor="end" fill="#444" stroke="#444" stroke-width="0.9">4</text>
<text transform="translate(418.00,191.80) scale(0.1)" font-size="40.0" text-anchor="middle" fill="#222" stroke="#222" stroke-width="0.9" font-weight="bold">log2(FC)</text>
<text x="0" y="0" font-size="4" font-weight="bold" text-anchor="middle" fill="#222" transform="translate(318.2,107) rotate(-90)">-log10(pval)</text>
<line x1="367.60" y1="28.00" x2="365.60" y2="34.20" stroke="#111" stroke-width="1.05"/>
<line x1="358.10" y1="38.50" x2="356.40" y2="45.20" stroke="#111" stroke-width="1.05"/>
<line x1="348.10" y1="59.20" x2="345.70" y2="64.10" stroke="#111" stroke-width="1.05"/>
<line x1="347.70" y1="85.00" x2="340.00" y2="94.20" stroke="#111" stroke-width="1.05"/>
<line x1="374.80" y1="91.10" x2="374.20" y2="109.50" stroke="#111" stroke-width="1.05"/>
<line x1="353.80" y1="107.20" x2="359.20" y2="111.80" stroke="#111" stroke-width="1.05"/>
<line x1="383.70" y1="106.50" x2="375.30" y2="115.70" stroke="#111" stroke-width="1.05"/>
<line x1="367.60" y1="119.50" x2="373.80" y2="118.00" stroke="#111" stroke-width="1.05"/>
<line x1="388.00" y1="117.20" x2="392.20" y2="125.70" stroke="#111" stroke-width="1.05"/>
<line x1="370.70" y1="121.00" x2="370.70" y2="131.80" stroke="#111" stroke-width="1.05"/>
<line x1="379.00" y1="119.50" x2="390.60" y2="138.70" stroke="#111" stroke-width="1.05"/>
<line x1="428.40" y1="23.90" x2="433.30" y2="24.20" stroke="#111" stroke-width="1.05"/>
<line x1="450.30" y1="27.30" x2="454.50" y2="31.60" stroke="#111" stroke-width="1.05"/>
<line x1="422.60" y1="88.00" x2="426.10" y2="102.30" stroke="#111" stroke-width="1.05"/>
<line x1="440.30" y1="88.80" x2="438.40" y2="90.40" stroke="#111" stroke-width="1.05"/>
<line x1="444.50" y1="104.00" x2="446.40" y2="108.00" stroke="#111" stroke-width="1.05"/>
<line x1="422.60" y1="111.80" x2="426.40" y2="117.20" stroke="#111" stroke-width="1.05"/>
<line x1="442.30" y1="118.75" x2="446.40" y2="122.30" stroke="#111" stroke-width="1.05"/>
<line x1="460.40" y1="108.80" x2="467.30" y2="111.80" stroke="#111" stroke-width="1.05"/>
<line x1="430.70" y1="118.75" x2="431.50" y2="123.00" stroke="#111" stroke-width="1.05"/>
<circle cx="365.60" cy="35.00" r="1.7" fill="#3f6cc4" stroke="#0d0d0d" stroke-width="1.05"/>
<circle cx="358.10" cy="38.50" r="1.7" fill="#3f6cc4" stroke="#0d0d0d" stroke-width="1.05"/>
<circle cx="348.10" cy="59.20" r="1.7" fill="#3f6cc4" stroke="#0d0d0d" stroke-width="1.05"/>
<circle cx="339.50" cy="94.50" r="1.7" fill="#3f6cc4" stroke="#0d0d0d" stroke-width="1.05"/>
<circle cx="374.20" cy="110.30" r="1.7" fill="#3f6cc4" stroke="#0d0d0d" stroke-width="1.05"/>
<circle cx="359.60" cy="112.30" r="1.7" fill="#3f6cc4" stroke="#0d0d0d" stroke-width="1.05"/>
<circle cx="376.00" cy="115.70" r="1.7" fill="#3f6cc4" stroke="#0d0d0d" stroke-width="1.05"/>
<circle cx="373.80" cy="118.00" r="1.7" fill="#3f6cc4" stroke="#0d0d0d" stroke-width="1.05"/>
<circle cx="373.00" cy="121.00" r="1.7" fill="#3f6cc4" stroke="#0d0d0d" stroke-width="1.05"/>
<circle cx="379.10" cy="119.50" r="1.7" fill="#3f6cc4" stroke="#0d0d0d" stroke-width="1.05"/>
<circle cx="388.00" cy="117.20" r="1.7" fill="#3f6cc4" stroke="#0d0d0d" stroke-width="1.05"/>
<circle cx="433.30" cy="24.20" r="1.7" fill="#d84a68" stroke="#0d0d0d" stroke-width="1.05"/>
<circle cx="450.30" cy="27.30" r="1.7" fill="#d84a68" stroke="#0d0d0d" stroke-width="1.05"/>
<circle cx="426.10" cy="102.60" r="1.7" fill="#d84a68" stroke="#0d0d0d" stroke-width="1.05"/>
<circle cx="438.40" cy="90.40" r="1.7" fill="#d84a68" stroke="#0d0d0d" stroke-width="1.05"/>
<circle cx="446.40" cy="108.00" r="1.7" fill="#d84a68" stroke="#0d0d0d" stroke-width="1.05"/>
<circle cx="426.80" cy="117.70" r="1.7" fill="#d84a68" stroke="#0d0d0d" stroke-width="1.05"/>
<circle cx="430.70" cy="118.75" r="1.7" fill="#d84a68" stroke="#0d0d0d" stroke-width="1.05"/>
<circle cx="430.30" cy="122.60" r="1.7" fill="#d84a68" stroke="#0d0d0d" stroke-width="1.05"/>
<circle cx="442.30" cy="118.75" r="1.7" fill="#d84a68" stroke="#0d0d0d" stroke-width="1.05"/>
<circle cx="458.50" cy="107.20" r="1.7" fill="#d84a68" stroke="#0d0d0d" stroke-width="1.05"/>
<text transform="translate(367.60,29.30) scale(0.1)" font-size="39.0" text-anchor="start" fill="#333" stroke="#333" stroke-width="0.9">C1S</text>
<text transform="translate(343.50,48.60) scale(0.1)" font-size="39.0" text-anchor="start" fill="#333" stroke="#333" stroke-width="0.9">FGA</text>
<text transform="translate(337.00,69.10) scale(0.1)" font-size="39.0" text-anchor="start" fill="#333" stroke="#333" stroke-width="0.9">MMP2</text>
<text transform="translate(397.00,26.40) scale(0.1)" font-size="39.0" text-anchor="start" fill="#333" stroke="#333" stroke-width="0.9">SERPINC1</text>
<text transform="translate(450.30,36.80) scale(0.1)" font-size="39.0" text-anchor="start" fill="#333" stroke="#333" stroke-width="0.9">PON1</text>
<text transform="translate(337.00,83.80) scale(0.1)" font-size="39.0" text-anchor="start" fill="#333" stroke="#333" stroke-width="0.9">COL18A1</text>
<text transform="translate(365.00,91.00) scale(0.1)" font-size="39.0" text-anchor="start" fill="#333" stroke="#333" stroke-width="0.9">C4BPA</text>
<text transform="translate(337.00,107.10) scale(0.1)" font-size="39.0" text-anchor="start" fill="#333" stroke="#333" stroke-width="0.9">IGKV2-28</text>
<text transform="translate(376.00,104.80) scale(0.1)" font-size="39.0" text-anchor="start" fill="#333" stroke="#333" stroke-width="0.9">IGHV3-30</text>
<text transform="translate(343.00,122.40) scale(0.1)" font-size="39.0" text-anchor="start" fill="#333" stroke="#333" stroke-width="0.9">IGKV1-5</text>
<text transform="translate(360.70,136.30) scale(0.1)" font-size="39.0" text-anchor="start" fill="#333" stroke="#333" stroke-width="0.9">TGFBI</text>
<text transform="translate(390.00,141.40) scale(0.1)" font-size="39.0" text-anchor="start" fill="#333" stroke="#333" stroke-width="0.9">ITIH3B</text>
<text transform="translate(405.70,91.00) scale(0.1)" font-size="39.0" text-anchor="start" fill="#333" stroke="#333" stroke-width="0.9">A1BG</text>
<text transform="translate(431.80,84.80) scale(0.1)" font-size="39.0" text-anchor="start" fill="#333" stroke="#333" stroke-width="0.9">LGALS3BP</text>
<text transform="translate(431.80,101.40) scale(0.1)" font-size="39.0" text-anchor="start" fill="#333" stroke="#333" stroke-width="0.9">IGHV3-9</text>
<text transform="translate(406.50,112.20) scale(0.1)" font-size="39.0" text-anchor="start" fill="#333" stroke="#333" stroke-width="0.9">ITIH1</text>
<text transform="translate(467.30,114.00) scale(0.1)" font-size="39.0" text-anchor="start" fill="#333" stroke="#333" stroke-width="0.9">CPN1</text>
<text transform="translate(442.60,128.60) scale(0.1)" font-size="39.0" text-anchor="start" fill="#333" stroke="#333" stroke-width="0.9">LRG1</text>
<text transform="translate(416.40,129.20) scale(0.1)" font-size="39.0" text-anchor="start" fill="#333" stroke="#333" stroke-width="0.9">COL6A3</text>
<text transform="translate(393.00,127.20) scale(0.1)" font-size="39.0" text-anchor="start" fill="#333" stroke="#333" stroke-width="0.9">F5</text>
<text transform="translate(516.00,85.90) scale(0.1)" font-size="40.0" text-anchor="start" fill="#222" stroke="#222" stroke-width="0.9" font-weight="bold">Significant</text>
<circle cx="519.60" cy="94.10" r="1.7" fill="#d8586c"/>
<text transform="translate(525.00,95.50) scale(0.1)" font-size="39.0" text-anchor="start" fill="#333" stroke="#333" stroke-width="0.9">Sig_Up (10)</text>
<circle cx="519.60" cy="101.60" r="1.7" fill="#9c9c9c"/>
<text transform="translate(525.00,103.00) scale(0.1)" font-size="39.0" text-anchor="start" fill="#333" stroke="#333" stroke-width="0.9">NoDiff (201)</text>
<circle cx="519.60" cy="109.10" r="1.7" fill="#4a72b8"/>
<text transform="translate(525.00,110.50) scale(0.1)" font-size="39.0" text-anchor="start" fill="#333" stroke="#333" stroke-width="0.9">Sig_Down (14)</text>
<text transform="translate(158.20,216.00) scale(0.1)" font-size="40.0" text-anchor="middle" fill="#222" stroke="#222" stroke-width="0.9" font-weight="bold">Venn Diagram</text>
<defs>
<clipPath id="cT"><circle cx="161.3" cy="292.5" r="53"/></clipPath>
<clipPath id="cL"><circle cx="134.9" cy="345.4" r="53"/></clipPath>
<clipPath id="cR"><circle cx="187.7" cy="345.4" r="53"/></clipPath>
</defs>
<circle cx="134.9" cy="345.4" r="53" fill="#5c4799"/>
<circle cx="187.7" cy="345.4" r="53" fill="#4f6aac"/>
<circle cx="161.3" cy="292.5" r="53" fill="#5a4d9c"/>
<g clip-path="url(#cL)"><circle cx="161.3" cy="292.5" r="53" fill="#54489a"/><circle cx="187.7" cy="345.4" r="53" fill="#5458a0"/></g>
<g clip-path="url(#cR)"><circle cx="161.3" cy="292.5" r="53" fill="#4f5aa0"/></g>
<g clip-path="url(#cL)"><g clip-path="url(#cR)"><circle cx="161.3" cy="292.5" r="53" fill="#8e1c46"/></g></g>
<circle cx="161.3" cy="292.5" r="53" fill="none" stroke="#111" stroke-width="1.2" stroke-dasharray="5,1.6"/>
<circle cx="134.9" cy="345.4" r="53" fill="none" stroke="#111" stroke-width="1.2" stroke-dasharray="5,1.6"/>
<circle cx="187.7" cy="345.4" r="53" fill="none" stroke="#111" stroke-width="1.2" stroke-dasharray="5,1.6"/>
<text transform="translate(160.60,270.60) scale(0.1)" font-size="44.0" text-anchor="middle" fill="#eeeeee" stroke="#eeeeee" stroke-width="0.9">14</text>
<text transform="translate(128.40,317.80) scale(0.1)" font-size="44.0" text-anchor="middle" fill="#eeeeee" stroke="#eeeeee" stroke-width="0.9">15</text>
<text transform="translate(160.60,323.60) scale(0.1)" font-size="44.0" text-anchor="middle" fill="#eeeeee" stroke="#eeeeee" stroke-width="0.9">368</text>
<text transform="translate(193.50,317.80) scale(0.1)" font-size="44.0" text-anchor="middle" fill="#eeeeee" stroke="#eeeeee" stroke-width="0.9">22</text>
<text transform="translate(107.60,350.60) scale(0.1)" font-size="44.0" text-anchor="middle" fill="#eeeeee" stroke="#eeeeee" stroke-width="0.9">13</text>
<text transform="translate(213.00,352.60) scale(0.1)" font-size="44.0" text-anchor="middle" fill="#eeeeee" stroke="#eeeeee" stroke-width="0.9">43</text>
<text transform="translate(160.60,365.90) scale(0.1)" font-size="44.0" text-anchor="middle" fill="#eeeeee" stroke="#eeeeee" stroke-width="0.9">21</text>
<text transform="translate(158.70,235.40) scale(0.1)" font-size="43.0" text-anchor="middle" fill="#333" stroke="#333" stroke-width="0.9">AMA</text>
<text transform="translate(82.90,407.80) scale(0.1)" font-size="44.0" text-anchor="middle" fill="#333" stroke="#333" stroke-width="0.9">AMA-QZYSD</text>
<text transform="translate(233.20,407.80) scale(0.1)" font-size="44.0" text-anchor="middle" fill="#333" stroke="#333" stroke-width="0.9">YMA</text>
<rect x="325.80" y="208.00" width="10.86" height="10.50" fill="#c2b4f6"/>
<rect x="336.16" y="208.00" width="10.86" height="10.50" fill="#e5352b"/>
<rect x="346.52" y="208.00" width="10.86" height="10.50" fill="#e5352b"/>
<rect x="356.88" y="208.00" width="10.86" height="10.50" fill="#e5352b"/>
<rect x="367.24" y="208.00" width="10.86" height="10.50" fill="#e5352b"/>
<rect x="377.60" y="208.00" width="10.86" height="10.50" fill="#f9e0d6"/>
<rect x="387.96" y="208.00" width="10.86" height="10.50" fill="#f9e0d6"/>
<rect x="398.32" y="208.00" width="10.86" height="10.50" fill="#9a86f2"/>
<rect x="408.68" y="208.00" width="10.86" height="10.50" fill="#9a86f2"/>
<rect x="419.04" y="208.00" width="10.86" height="10.50" fill="#f2b29c"/>
<rect x="429.40" y="208.00" width="10.86" height="10.50" fill="#c2b4f6"/>
<rect x="439.76" y="208.00" width="10.86" height="10.50" fill="#3a2aec"/>
<rect x="450.12" y="208.00" width="10.86" height="10.50" fill="#9a86f2"/>
<rect x="460.48" y="208.00" width="10.86" height="10.50" fill="#e2dafa"/>
<rect x="470.84" y="208.00" width="10.86" height="10.50" fill="#9a86f2"/>
<rect x="481.20" y="208.00" width="10.86" height="10.50" fill="#0a00f0"/>
<rect x="491.56" y="208.00" width="10.86" height="10.50" fill="#0a00f0"/>
<rect x="501.92" y="208.00" width="10.86" height="10.50" fill="#0a00f0"/>
<rect x="512.28" y="208.00" width="10.86" height="10.50" fill="#3a2aec"/>
<rect x="522.64" y="208.00" width="10.86" height="10.50" fill="#f9e0d6"/>
<rect x="325.80" y="218.00" width="10.86" height="10.50" fill="#e5352b"/>
<rect x="336.16" y="218.00" width="10.86" height="10.50" fill="#9a86f2"/>
<rect x="346.52" y="218.00" width="10.86" height="10.50" fill="#e2dafa"/>
<rect x="356.88" y="218.00" width="10.86" height="10.50" fill="#c2b4f6"/>
<rect x="367.24" y="218.00" width="10.86" height="10.50" fill="#f2b29c"/>
<rect x="377.60" y="218.00" width="10.86" height="10.50" fill="#ea6a4e"/>
<rect x="387.96" y="218.00" width="10.86" height="10.50" fill="#f9e0d6"/>
<rect x="398.32" y="218.00" width="10.86" height="10.50" fill="#e5352b"/>
<rect x="408.68" y="218.00" width="10.86" height="10.50" fill="#ea6a4e"/>
<rect x="419.04" y="218.00" width="10.86" height="10.50" fill="#f6f3fb"/>
<rect x="429.40" y="218.00" width="10.86" height="10.50" fill="#bebebe"/>
<rect x="439.76" y="218.00" width="10.86" height="10.50" fill="#bebebe"/>
<rect x="450.12" y="218.00" width="10.86" height="10.50" fill="#0a00f0"/>
<rect x="460.48" y="218.00" width="10.86" height="10.50" fill="#ea6a4e"/>
<rect x="470.84" y="218.00" width="10.86" height="10.50" fill="#9a86f2"/>
<rect x="481.20" y="218.00" width="10.86" height="10.50" fill="#c2b4f6"/>
<rect x="491.56" y="218.00" width="10.86" height="10.50" fill="#9a86f2"/>
<rect x="501.92" y="218.00" width="10.86" height="10.50" fill="#bebebe"/>
<rect x="512.28" y="218.00" width="10.86" height="10.50" fill="#0a00f0"/>
<rect x="522.64" y="218.00" width="10.86" height="10.50" fill="#c2b4f6"/>
<rect x="325.80" y="228.00" width="10.86" height="10.50" fill="#3a2aec"/>
<rect x="336.16" y="228.00" width="10.86" height="10.50" fill="#f2b29c"/>
<rect x="346.52" y="228.00" width="10.86" height="10.50" fill="#0a00f0"/>
<rect x="356.88" y="228.00" width="10.86" height="10.50" fill="#e2dafa"/>
<rect x="367.24" y="228.00" width="10.86" height="10.50" fill="#0a00f0"/>
<rect x="377.60" y="228.00" width="10.86" height="10.50" fill="#0a00f0"/>
<rect x="387.96" y="228.00" width="10.86" height="10.50" fill="#3a2aec"/>
<rect x="398.32" y="228.00" width="10.86" height="10.50" fill="#f2b29c"/>
<rect x="408.68" y="228.00" width="10.86" height="10.50" fill="#f9e0d6"/>
<rect x="419.04" y="228.00" width="10.86" height="10.50" fill="#e2dafa"/>
<rect x="429.40" y="228.00" width="10.86" height="10.50" fill="#e5352b"/>
<rect x="439.76" y="228.00" width="10.86" height="10.50" fill="#ea6a4e"/>
<rect x="450.12" y="228.00" width="10.86" height="10.50" fill="#f2b29c"/>
<rect x="460.48" y="228.00" width="10.86" height="10.50" fill="#e5352b"/>
<rect x="470.84" y="228.00" width="10.86" height="10.50" fill="#ea6a4e"/>
<rect x="481.20" y="228.00" width="10.86" height="10.50" fill="#9a86f2"/>
<rect x="491.56" y="228.00" width="10.86" height="10.50" fill="#e5352b"/>
<rect x="501.92" y="228.00" width="10.86" height="10.50" fill="#6a55f0"/>
<rect x="512.28" y="228.00" width="10.86" height="10.50" fill="#f6f3fb"/>
<rect x="522.64" y="228.00" width="10.86" height="10.50" fill="#f9e0d6"/>
<rect x="325.80" y="238.00" width="10.86" height="10.50" fill="#f6f3fb"/>
<rect x="336.16" y="238.00" width="10.86" height="10.50" fill="#f9e0d6"/>
<rect x="346.52" y="238.00" width="10.86" height="10.50" fill="#c2b4f6"/>
<rect x="356.88" y="238.00" width="10.86" height="10.50" fill="#c2b4f6"/>
<rect x="367.24" y="238.00" width="10.86" height="10.50" fill="#0a00f0"/>
<rect x="377.60" y="238.00" width="10.86" height="10.50" fill="#0a00f0"/>
<rect x="387.96" y="238.00" width="10.86" height="10.50" fill="#c2b4f6"/>
<rect x="398.32" y="238.00" width="10.86" height="10.50" fill="#0a00f0"/>
<rect x="408.68" y="238.00" width="10.86" height="10.50" fill="#c2b4f6"/>
<rect x="419.04" y="238.00" width="10.86" height="10.50" fill="#f2b29c"/>
<rect x="429.40" y="238.00" width="10.86" height="10.50" fill="#e5352b"/>
<rect x="439.76" y="238.00" width="10.86" height="10.50" fill="#e5352b"/>
<rect x="450.12" y="238.00" width="10.86" height="10.50" fill="#e2dafa"/>
<rect x="460.48" y="238.00" width="10.86" height="10.50" fill="#3a2aec"/>
<rect x="470.84" y="238.00" width="10.86" height="10.50" fill="#ea6a4e"/>
<rect x="481.20" y="238.00" width="10.86" height="10.50" fill="#3a2aec"/>
<rect x="491.56" y="238.00" width="10.86" height="10.50" fill="#e5352b"/>
<rect x="501.92" y="238.00" width="10.86" height="10.50" fill="#9a86f2"/>
<rect x="512.28" y="238.00" width="10.86" height="10.50" fill="#f2b29c"/>
<rect x="522.64" y="238.00" width="10.86" height="10.50" fill="#ea6a4e"/>
<rect x="325.80" y="248.00" width="10.86" height="10.50" fill="#9a86f2"/>
<rect x="336.16" y="248.00" width="10.86" height="10.50" fill="#ea6a4e"/>
<rect x="346.52" y="248.00" width="10.86" height="10.50" fill="#e2dafa"/>
<rect x="356.88" y="248.00" width="10.86" height="10.50" fill="#e2dafa"/>
<rect x="367.24" y="248.00" width="10.86" height="10.50" fill="#9a86f2"/>
<rect x="377.60" y="248.00" width="10.86" height="10.50" fill="#0a00f0"/>
<rect x="387.96" y="248.00" width="10.86" height="10.50" fill="#0a00f0"/>
<rect x="398.32" y="248.00" width="10.86" height="10.50" fill="#0a00f0"/>
<rect x="408.68" y="248.00" width="10.86" height="10.50" fill="#9a86f2"/>
<rect x="419.04" y="248.00" width="10.86" height="10.50" fill="#bebebe"/>
<rect x="429.40" y="248.00" width="10.86" height="10.50" fill="#ea6a4e"/>
<rect x="439.76" y="248.00" width="10.86" height="10.50" fill="#e5352b"/>
<rect x="450.12" y="248.00" width="10.86" height="10.50" fill="#f9e0d6"/>
<rect x="460.48" y="248.00" width="10.86" height="10.50" fill="#f2b29c"/>
<rect x="470.84" y="248.00" width="10.86" height="10.50" fill="#ea6a4e"/>
<rect x="481.20" y="248.00" width="10.86" height="10.50" fill="#0a00f0"/>
<rect x="491.56" y="248.00" width="10.86" height="10.50" fill="#ea6a4e"/>
<rect x="501.92" y="248.00" width="10.86" height="10.50" fill="#9a86f2"/>
<rect x="512.28" y="248.00" width="10.86" height="10.50" fill="#f9e0d6"/>
<rect x="522.64" y="248.00" width="10.86" height="10.50" fill="#e5352b"/>
<rect x="325.80" y="258.00" width="10.86" height="10.50" fill="#c2b4f6"/>
<rect x="336.16" y="258.00" width="10.86" height="10.50" fill="#e5352b"/>
<rect x="346.52" y="258.00" width="10.86" height="10.50" fill="#0a00f0"/>
<rect x="356.88" y="258.00" width="10.86" height="10.50" fill="#f2b29c"/>
<rect x="367.24" y="258.00" width="10.86" height="10.50" fill="#f6f3fb"/>
<rect x="377.60" y="258.00" width="10.86" height="10.50" fill="#9a86f2"/>
<rect x="387.96" y="258.00" width="10.86" height="10.50" fill="#6a55f0"/>
<rect x="398.32" y="258.00" width="10.86" height="10.50" fill="#0a00f0"/>
<rect x="408.68" y="258.00" width="10.86" height="10.50" fill="#9a86f2"/>
<rect x="419.04" y="258.00" width="10.86" height="10.50" fill="#6a55f0"/>
<rect x="429.40" y="258.00" width="10.86" height="10.50" fill="#bebebe"/>
<rect x="439.76" y="258.00" width="10.86" height="10.50" fill="#e5352b"/>
<rect x="450.12" y="258.00" width="10.86" height="10.50" fill="#bebebe"/>
<rect x="460.48" y="258.00" width="10.86" height="10.50" fill="#3a2aec"/>
<rect x="470.84" y="258.00" width="10.86" height="10.50" fill="#e5352b"/>
<rect x="481.20" y="258.00" width="10.86" height="10.50" fill="#f9e0d6"/>
<rect x="491.56" y="258.00" width="10.86" height="10.50" fill="#c2b4f6"/>
<rect x="501.92" y="258.00" width="10.86" height="10.50" fill="#f6f3fb"/>
<rect x="512.28" y="258.00" width="10.86" height="10.50" fill="#f9e0d6"/>
<rect x="522.64" y="258.00" width="10.86" height="10.50" fill="#e5352b"/>
<rect x="325.80" y="268.00" width="10.86" height="10.50" fill="#e5352b"/>
<rect x="336.16" y="268.00" width="10.86" height="10.50" fill="#9a86f2"/>
<rect x="346.52" y="268.00" width="10.86" height="10.50" fill="#0a00f0"/>
<rect x="356.88" y="268.00" width="10.86" height="10.50" fill="#c2b4f6"/>
<rect x="367.24" y="268.00" width="10.86" height="10.50" fill="#0a00f0"/>
<rect x="377.60" y="268.00" width="10.86" height="10.50" fill="#6a55f0"/>
<rect x="387.96" y="268.00" width="10.86" height="10.50" fill="#0a00f0"/>
<rect x="398.32" y="268.00" width="10.86" height="10.50" fill="#9a86f2"/>
<rect x="408.68" y="268.00" width="10.86" height="10.50" fill="#c2b4f6"/>
<rect x="419.04" y="268.00" width="10.86" height="10.50" fill="#0a00f0"/>
<rect x="429.40" y="268.00" width="10.86" height="10.50" fill="#c2b4f6"/>
<rect x="439.76" y="268.00" width="10.86" height="10.50" fill="#e5352b"/>
<rect x="450.12" y="268.00" width="10.86" height="10.50" fill="#f6f3fb"/>
<rect x="460.48" y="268.00" width="10.86" height="10.50" fill="#ea6a4e"/>
<rect x="470.84" y="268.00" width="10.86" height="10.50" fill="#e5352b"/>
<rect x="481.20" y="268.00" width="10.86" height="10.50" fill="#e5352b"/>
<rect x="491.56" y="268.00" width="10.86" height="10.50" fill="#f6f3fb"/>
<rect x="501.92" y="268.00" width="10.86" height="10.50" fill="#e2dafa"/>
<rect x="512.28" y="268.00" width="10.86" height="10.50" fill="#f2b29c"/>
<rect x="522.64" y="268.00" width="10.86" height="10.50" fill="#e5352b"/>
<rect x="325.80" y="278.00" width="10.86" height="10.50" fill="#bebebe"/>
<rect x="336.16" y="278.00" width="10.86" height="10.50" fill="#f2b29c"/>
<rect x="346.52" y="278.00" width="10.86" height="10.50" fill="#9a86f2"/>
<rect x="356.88" y="278.00" width="10.86" height="10.50" fill="#ea6a4e"/>
<rect x="367.24" y="278.00" width="10.86" height="10.50" fill="#ea6a4e"/>
<rect x="377.60" y="278.00" width="10.86" height="10.50" fill="#f6f3fb"/>
<rect x="387.96" y="278.00" width="10.86" height="10.50" fill="#0a00f0"/>
<rect x="398.32" y="278.00" width="10.86" height="10.50" fill="#0a00f0"/>
<rect x="408.68" y="278.00" width="10.86" height="10.50" fill="#0a00f0"/>
<rect x="419.04" y="278.00" width="10.86" height="10.50" fill="#0a00f0"/>
<rect x="429.40" y="278.00" width="10.86" height="10.50" fill="#f6f3fb"/>
<rect x="439.76" y="278.00" width="10.86" height="10.50" fill="#bebebe"/>
<rect x="450.12" y="278.00" width="10.86" height="10.50" fill="#f2b29c"/>
<rect x="460.48" y="278.00" width="10.86" height="10.50" fill="#ea6a4e"/>
<rect x="470.84" y="278.00" width="10.86" height="10.50" fill="#f2b29c"/>
<rect x="481.20" y="278.00" width="10.86" height="10.50" fill="#bebebe"/>
<rect x="491.56" y="278.00" width="10.86" height="10.50" fill="#bebebe"/>
<rect x="501.92" y="278.00" width="10.86" height="10.50" fill="#ea6a4e"/>
<rect x="512.28" y="278.00" width="10.86" height="10.50" fill="#bebebe"/>
<rect x="522.64" y="278.00" width="10.86" height="10.50" fill="#e5352b"/>
<rect x="325.80" y="288.00" width="10.86" height="10.50" fill="#6a55f0"/>
<rect x="336.16" y="288.00" width="10.86" height="10.50" fill="#bebebe"/>
<rect x="346.52" y="288.00" width="10.86" height="10.50" fill="#bebebe"/>
<rect x="356.88" y="288.00" width="10.86" height="10.50" fill="#9a86f2"/>
<rect x="367.24" y="288.00" width="10.86" height="10.50" fill="#0a00f0"/>
<rect x="377.60" y="288.00" width="10.86" height="10.50" fill="#e5352b"/>
<rect x="387.96" y="288.00" width="10.86" height="10.50" fill="#6a55f0"/>
<rect x="398.32" y="288.00" width="10.86" height="10.50" fill="#bebebe"/>
<rect x="408.68" y="288.00" width="10.86" height="10.50" fill="#c2b4f6"/>
<rect x="419.04" y="288.00" width="10.86" height="10.50" fill="#0a00f0"/>
<rect x="429.40" y="288.00" width="10.86" height="10.50" fill="#bebebe"/>
<rect x="439.76" y="288.00" width="10.86" height="10.50" fill="#e5352b"/>
<rect x="450.12" y="288.00" width="10.86" height="10.50" fill="#f9e0d6"/>
<rect x="460.48" y="288.00" width="10.86" height="10.50" fill="#ea6a4e"/>
<rect x="470.84" y="288.00" width="10.86" height="10.50" fill="#f2b29c"/>
<rect x="481.20" y="288.00" width="10.86" height="10.50" fill="#f2b29c"/>
<rect x="491.56" y="288.00" width="10.86" height="10.50" fill="#bebebe"/>
<rect x="501.92" y="288.00" width="10.86" height="10.50" fill="#f9e0d6"/>
<rect x="512.28" y="288.00" width="10.86" height="10.50" fill="#0a00f0"/>
<rect x="522.64" y="288.00" width="10.86" height="10.50" fill="#e5352b"/>
<rect x="325.80" y="298.00" width="10.86" height="10.50" fill="#c2b4f6"/>
<rect x="336.16" y="298.00" width="10.86" height="10.50" fill="#0a00f0"/>
<rect x="346.52" y="298.00" width="10.86" height="10.50" fill="#e2dafa"/>
<rect x="356.88" y="298.00" width="10.86" height="10.50" fill="#c2b4f6"/>
<rect x="367.24" y="298.00" width="10.86" height="10.50" fill="#ea6a4e"/>
<rect x="377.60" y="298.00" width="10.86" height="10.50" fill="#6a55f0"/>
<rect x="387.96" y="298.00" width="10.86" height="10.50" fill="#0a00f0"/>
<rect x="398.32" y="298.00" width="10.86" height="10.50" fill="#f2b29c"/>
<rect x="408.68" y="298.00" width="10.86" height="10.50" fill="#f6f3fb"/>
<rect x="419.04" y="298.00" width="10.86" height="10.50" fill="#3a2aec"/>
<rect x="429.40" y="298.00" width="10.86" height="10.50" fill="#e2dafa"/>
<rect x="439.76" y="298.00" width="10.86" height="10.50" fill="#e5352b"/>
<rect x="450.12" y="298.00" width="10.86" height="10.50" fill="#ea6a4e"/>
<rect x="460.48" y="298.00" width="10.86" height="10.50" fill="#f2b29c"/>
<rect x="470.84" y="298.00" width="10.86" height="10.50" fill="#e5352b"/>
<rect x="481.20" y="298.00" width="10.86" height="10.50" fill="#f6f3fb"/>
<rect x="491.56" y="298.00" width="10.86" height="10.50" fill="#0a00f0"/>
<rect x="501.92" y="298.00" width="10.86" height="10.50" fill="#f9e0d6"/>
<rect x="512.28" y="298.00" width="10.86" height="10.50" fill="#9a86f2"/>
<rect x="522.64" y="298.00" width="10.86" height="10.50" fill="#e5352b"/>
<rect x="325.80" y="308.00" width="10.86" height="10.50" fill="#0a00f0"/>
<rect x="336.16" y="308.00" width="10.86" height="10.50" fill="#e5352b"/>
<rect x="346.52" y="308.00" width="10.86" height="10.50" fill="#9a86f2"/>
<rect x="356.88" y="308.00" width="10.86" height="10.50" fill="#c2b4f6"/>
<rect x="367.24" y="308.00" width="10.86" height="10.50" fill="#9a86f2"/>
<rect x="377.60" y="308.00" width="10.86" height="10.50" fill="#f6f3fb"/>
<rect x="387.96" y="308.00" width="10.86" height="10.50" fill="#0a00f0"/>
<rect x="398.32" y="308.00" width="10.86" height="10.50" fill="#6a55f0"/>
<rect x="408.68" y="308.00" width="10.86" height="10.50" fill="#6a55f0"/>
<rect x="419.04" y="308.00" width="10.86" height="10.50" fill="#6a55f0"/>
<rect x="429.40" y="308.00" width="10.86" height="10.50" fill="#e5352b"/>
<rect x="439.76" y="308.00" width="10.86" height="10.50" fill="#9a86f2"/>
<rect x="450.12" y="308.00" width="10.86" height="10.50" fill="#e5352b"/>
<rect x="460.48" y="308.00" width="10.86" height="10.50" fill="#e5352b"/>
<rect x="470.84" y="308.00" width="10.86" height="10.50" fill="#ea6a4e"/>
<rect x="481.20" y="308.00" width="10.86" height="10.50" fill="#c2b4f6"/>
<rect x="491.56" y="308.00" width="10.86" height="10.50" fill="#3a2aec"/>
<rect x="501.92" y="308.00" width="10.86" height="10.50" fill="#e2dafa"/>
<rect x="512.28" y="308.00" width="10.86" height="10.50" fill="#c2b4f6"/>
<rect x="522.64" y="308.00" width="10.86" height="10.50" fill="#e5352b"/>
<rect x="325.80" y="318.00" width="10.86" height="10.50" fill="#e2dafa"/>
<rect x="336.16" y="318.00" width="10.86" height="10.50" fill="#c2b4f6"/>
<rect x="346.52" y="318.00" width="10.86" height="10.50" fill="#f9e0d6"/>
<rect x="356.88" y="318.00" width="10.86" height="10.50" fill="#9a86f2"/>
<rect x="367.24" y="318.00" width="10.86" height="10.50" fill="#0a00f0"/>
<rect x="377.60" y="318.00" width="10.86" height="10.50" fill="#f2b29c"/>
<rect x="387.96" y="318.00" width="10.86" height="10.50" fill="#0a00f0"/>
<rect x="398.32" y="318.00" width="10.86" height="10.50" fill="#0a00f0"/>
<rect x="408.68" y="318.00" width="10.86" height="10.50" fill="#9a86f2"/>
<rect x="419.04" y="318.00" width="10.86" height="10.50" fill="#6a55f0"/>
<rect x="429.40" y="318.00" width="10.86" height="10.50" fill="#e5352b"/>
<rect x="439.76" y="318.00" width="10.86" height="10.50" fill="#f9e0d6"/>
<rect x="450.12" y="318.00" width="10.86" height="10.50" fill="#e5352b"/>
<rect x="460.48" y="318.00" width="10.86" height="10.50" fill="#e5352b"/>
<rect x="470.84" y="318.00" width="10.86" height="10.50" fill="#e5352b"/>
<rect x="481.20" y="318.00" width="10.86" height="10.50" fill="#c2b4f6"/>
<rect x="491.56" y="318.00" width="10.86" height="10.50" fill="#c2b4f6"/>
<rect x="501.92" y="318.00" width="10.86" height="10.50" fill="#3a2aec"/>
<rect x="512.28" y="318.00" width="10.86" height="10.50" fill="#e5352b"/>
<rect x="522.64" y="318.00" width="10.86" height="10.50" fill="#e5352b"/>
<rect x="325.80" y="328.00" width="10.86" height="10.50" fill="#c2b4f6"/>
<rect x="336.16" y="328.00" width="10.86" height="10.50" fill="#bebebe"/>
<rect x="346.52" y="328.00" width="10.86" height="10.50" fill="#c2b4f6"/>
<rect x="356.88" y="328.00" width="10.86" height="10.50" fill="#f6f3fb"/>
<rect x="367.24" y="328.00" width="10.86" height="10.50" fill="#6a55f0"/>
<rect x="377.60" y="328.00" width="10.86" height="10.50" fill="#bebebe"/>
<rect x="387.96" y="328.00" width="10.86" height="10.50" fill="#bebebe"/>
<rect x="398.32" y="328.00" width="10.86" height="10.50" fill="#bebebe"/>
<rect x="408.68" y="328.00" width="10.86" height="10.50" fill="#0a00f0"/>
<rect x="419.04" y="328.00" width="10.86" height="10.50" fill="#0a00f0"/>
<rect x="429.40" y="328.00" width="10.86" height="10.50" fill="#bebebe"/>
<rect x="439.76" y="328.00" width="10.86" height="10.50" fill="#f9e0d6"/>
<rect x="450.12" y="328.00" width="10.86" height="10.50" fill="#e5352b"/>
<rect x="460.48" y="328.00" width="10.86" height="10.50" fill="#e5352b"/>
<rect x="470.84" y="328.00" width="10.86" height="10.50" fill="#e5352b"/>
<rect x="481.20" y="328.00" width="10.86" height="10.50" fill="#bebebe"/>
<rect x="491.56" y="328.00" width="10.86" height="10.50" fill="#bebebe"/>
<rect x="501.92" y="328.00" width="10.86" height="10.50" fill="#bebebe"/>
<rect x="512.28" y="328.00" width="10.86" height="10.50" fill="#9a86f2"/>
<rect x="522.64" y="328.00" width="10.86" height="10.50" fill="#f6f3fb"/>
<rect x="325.80" y="338.00" width="10.86" height="10.50" fill="#e2dafa"/>
<rect x="336.16" y="338.00" width="10.86" height="10.50" fill="#f9e0d6"/>
<rect x="346.52" y="338.00" width="10.86" height="10.50" fill="#6a55f0"/>
<rect x="356.88" y="338.00" width="10.86" height="10.50" fill="#0a00f0"/>
<rect x="367.24" y="338.00" width="10.86" height="10.50" fill="#0a00f0"/>
<rect x="377.60" y="338.00" width="10.86" height="10.50" fill="#c2b4f6"/>
<rect x="387.96" y="338.00" width="10.86" height="10.50" fill="#9a86f2"/>
<rect x="398.32" y="338.00" width="10.86" height="10.50" fill="#6a55f0"/>
<rect x="408.68" y="338.00" width="10.86" height="10.50" fill="#0a00f0"/>
<rect x="419.04" y="338.00" width="10.86" height="10.50" fill="#3a2aec"/>
<rect x="429.40" y="338.00" width="10.86" height="10.50" fill="#f6f3fb"/>
<rect x="439.76" y="338.00" width="10.86" height="10.50" fill="#e5352b"/>
<rect x="450.12" y="338.00" width="10.86" height="10.50" fill="#e5352b"/>
<rect x="460.48" y="338.00" width="10.86" height="10.50" fill="#e5352b"/>
<rect x="470.84" y="338.00" width="10.86" height="10.50" fill="#e5352b"/>
<rect x="481.20" y="338.00" width="10.86" height="10.50" fill="#f6f3fb"/>
<rect x="491.56" y="338.00" width="10.86" height="10.50" fill="#0a00f0"/>
<rect x="501.92" y="338.00" width="10.86" height="10.50" fill="#f6f3fb"/>
<rect x="512.28" y="338.00" width="10.86" height="10.50" fill="#f6f3fb"/>
<rect x="522.64" y="338.00" width="10.86" height="10.50" fill="#f9e0d6"/>
<rect x="325.80" y="348.00" width="10.86" height="10.50" fill="#3a2aec"/>
<rect x="336.16" y="348.00" width="10.86" height="10.50" fill="#c2b4f6"/>
<rect x="346.52" y="348.00" width="10.86" height="10.50" fill="#9a86f2"/>
<rect x="356.88" y="348.00" width="10.86" height="10.50" fill="#bebebe"/>
<rect x="367.24" y="348.00" width="10.86" height="10.50" fill="#3a2aec"/>
<rect x="377.60" y="348.00" width="10.86" height="10.50" fill="#c2b4f6"/>
<rect x="387.96" y="348.00" width="10.86" height="10.50" fill="#9a86f2"/>
<rect x="398.32" y="348.00" width="10.86" height="10.50" fill="#9a86f2"/>
<rect x="408.68" y="348.00" width="10.86" height="10.50" fill="#6a55f0"/>
<rect x="419.04" y="348.00" width="10.86" height="10.50" fill="#bebebe"/>
<rect x="429.40" y="348.00" width="10.86" height="10.50" fill="#e5352b"/>
<rect x="439.76" y="348.00" width="10.86" height="10.50" fill="#e5352b"/>
<rect x="450.12" y="348.00" width="10.86" height="10.50" fill="#e5352b"/>
<rect x="460.48" y="348.00" width="10.86" height="10.50" fill="#f6f3fb"/>
<rect x="470.84" y="348.00" width="10.86" height="10.50" fill="#bebebe"/>
<rect x="481.20" y="348.00" width="10.86" height="10.50" fill="#ea6a4e"/>
<rect x="491.56" y="348.00" width="10.86" height="10.50" fill="#bebebe"/>
<rect x="501.92" y="348.00" width="10.86" height="10.50" fill="#3a2aec"/>
<rect x="512.28" y="348.00" width="10.86" height="10.50" fill="#bebebe"/>
<rect x="522.64" y="348.00" width="10.86" height="10.50" fill="#bebebe"/>
<rect x="325.80" y="358.00" width="10.86" height="10.50" fill="#6a55f0"/>
<rect x="336.16" y="358.00" width="10.86" height="10.50" fill="#c2b4f6"/>
<rect x="346.52" y="358.00" width="10.86" height="10.50" fill="#c2b4f6"/>
<rect x="356.88" y="358.00" width="10.86" height="10.50" fill="#3a2aec"/>
<rect x="367.24" y="358.00" width="10.86" height="10.50" fill="#9a86f2"/>
<rect x="377.60" y="358.00" width="10.86" height="10.50" fill="#f9e0d6"/>
<rect x="387.96" y="358.00" width="10.86" height="10.50" fill="#0a00f0"/>
<rect x="398.32" y="358.00" width="10.86" height="10.50" fill="#f6f3fb"/>
<rect x="408.68" y="358.00" width="10.86" height="10.50" fill="#c2b4f6"/>
<rect x="419.04" y="358.00" width="10.86" height="10.50" fill="#e2dafa"/>
<rect x="429.40" y="358.00" width="10.86" height="10.50" fill="#e2dafa"/>
<rect x="439.76" y="358.00" width="10.86" height="10.50" fill="#f2b29c"/>
<rect x="450.12" y="358.00" width="10.86" height="10.50" fill="#e5352b"/>
<rect x="460.48" y="358.00" width="10.86" height="10.50" fill="#e5352b"/>
<rect x="470.84" y="358.00" width="10.86" height="10.50" fill="#e5352b"/>
<rect x="481.20" y="358.00" width="10.86" height="10.50" fill="#c2b4f6"/>
<rect x="491.56" y="358.00" width="10.86" height="10.50" fill="#f2b29c"/>
<rect x="501.92" y="358.00" width="10.86" height="10.50" fill="#6a55f0"/>
<rect x="512.28" y="358.00" width="10.86" height="10.50" fill="#f2b29c"/>
<rect x="522.64" y="358.00" width="10.86" height="10.50" fill="#3a2aec"/>
<rect x="325.80" y="368.00" width="10.86" height="10.50" fill="#f9e0d6"/>
<rect x="336.16" y="368.00" width="10.86" height="10.50" fill="#0a00f0"/>
<rect x="346.52" y="368.00" width="10.86" height="10.50" fill="#9a86f2"/>
<rect x="356.88" y="368.00" width="10.86" height="10.50" fill="#3a2aec"/>
<rect x="367.24" y="368.00" width="10.86" height="10.50" fill="#9a86f2"/>
<rect x="377.60" y="368.00" width="10.86" height="10.50" fill="#e5352b"/>
<rect x="387.96" y="368.00" width="10.86" height="10.50" fill="#e2dafa"/>
<rect x="398.32" y="368.00" width="10.86" height="10.50" fill="#0a00f0"/>
<rect x="408.68" y="368.00" width="10.86" height="10.50" fill="#f9e0d6"/>
<rect x="419.04" y="368.00" width="10.86" height="10.50" fill="#0a00f0"/>
<rect x="429.40" y="368.00" width="10.86" height="10.50" fill="#e2dafa"/>
<rect x="439.76" y="368.00" width="10.86" height="10.50" fill="#f9e0d6"/>
<rect x="450.12" y="368.00" width="10.86" height="10.50" fill="#e5352b"/>
<rect x="460.48" y="368.00" width="10.86" height="10.50" fill="#e2dafa"/>
<rect x="470.84" y="368.00" width="10.86" height="10.50" fill="#e5352b"/>
<rect x="481.20" y="368.00" width="10.86" height="10.50" fill="#ea6a4e"/>
<rect x="491.56" y="368.00" width="10.86" height="10.50" fill="#3a2aec"/>
<rect x="501.92" y="368.00" width="10.86" height="10.50" fill="#ea6a4e"/>
<rect x="512.28" y="368.00" width="10.86" height="10.50" fill="#e5352b"/>
<rect x="522.64" y="368.00" width="10.86" height="10.50" fill="#f6f3fb"/>
<rect x="325.80" y="378.00" width="10.86" height="10.50" fill="#bebebe"/>
<rect x="336.16" y="378.00" width="10.86" height="10.50" fill="#0a00f0"/>
<rect x="346.52" y="378.00" width="10.86" height="10.50" fill="#f2b29c"/>
<rect x="356.88" y="378.00" width="10.86" height="10.50" fill="#0a00f0"/>
<rect x="367.24" y="378.00" width="10.86" height="10.50" fill="#0a00f0"/>
<rect x="377.60" y="378.00" width="10.86" height="10.50" fill="#9a86f2"/>
<rect x="387.96" y="378.00" width="10.86" height="10.50" fill="#ea6a4e"/>
<rect x="398.32" y="378.00" width="10.86" height="10.50" fill="#f9e0d6"/>
<rect x="408.68" y="378.00" width="10.86" height="10.50" fill="#bebebe"/>
<rect x="419.04" y="378.00" width="10.86" height="10.50" fill="#3a2aec"/>
<rect x="429.40" y="378.00" width="10.86" height="10.50" fill="#0a00f0"/>
<rect x="439.76" y="378.00" width="10.86" height="10.50" fill="#bebebe"/>
<rect x="450.12" y="378.00" width="10.86" height="10.50" fill="#e2dafa"/>
<rect x="460.48" y="378.00" width="10.86" height="10.50" fill="#e5352b"/>
<rect x="470.84" y="378.00" width="10.86" height="10.50" fill="#e5352b"/>
<rect x="481.20" y="378.00" width="10.86" height="10.50" fill="#e5352b"/>
<rect x="491.56" y="378.00" width="10.86" height="10.50" fill="#f9e0d6"/>
<rect x="501.92" y="378.00" width="10.86" height="10.50" fill="#ea6a4e"/>
<rect x="512.28" y="378.00" width="10.86" height="10.50" fill="#f9e0d6"/>
<rect x="522.64" y="378.00" width="10.86" height="10.50" fill="#e2dafa"/>
<rect x="325.80" y="388.00" width="10.86" height="10.50" fill="#f9e0d6"/>
<rect x="336.16" y="388.00" width="10.86" height="10.50" fill="#0a00f0"/>
<rect x="346.52" y="388.00" width="10.86" height="10.50" fill="#c2b4f6"/>
<rect x="356.88" y="388.00" width="10.86" height="10.50" fill="#0a00f0"/>
<rect x="367.24" y="388.00" width="10.86" height="10.50" fill="#0a00f0"/>
<rect x="377.60" y="388.00" width="10.86" height="10.50" fill="#6a55f0"/>
<rect x="387.96" y="388.00" width="10.86" height="10.50" fill="#f9e0d6"/>
<rect x="398.32" y="388.00" width="10.86" height="10.50" fill="#9a86f2"/>
<rect x="408.68" y="388.00" width="10.86" height="10.50" fill="#c2b4f6"/>
<rect x="419.04" y="388.00" width="10.86" height="10.50" fill="#6a55f0"/>
<rect x="429.40" y="388.00" width="10.86" height="10.50" fill="#e2dafa"/>
<rect x="439.76" y="388.00" width="10.86" height="10.50" fill="#ea6a4e"/>
<rect x="450.12" y="388.00" width="10.86" height="10.50" fill="#f9e0d6"/>
<rect x="460.48" y="388.00" width="10.86" height="10.50" fill="#e5352b"/>
<rect x="470.84" y="388.00" width="10.86" height="10.50" fill="#f2b29c"/>
<rect x="481.20" y="388.00" width="10.86" height="10.50" fill="#e5352b"/>
<rect x="491.56" y="388.00" width="10.86" height="10.50" fill="#e5352b"/>
<rect x="501.92" y="388.00" width="10.86" height="10.50" fill="#e5352b"/>
<rect x="512.28" y="388.00" width="10.86" height="10.50" fill="#f9e0d6"/>
<rect x="522.64" y="388.00" width="10.86" height="10.50" fill="#0a00f0"/>
<rect x="325.80" y="398.00" width="10.86" height="10.50" fill="#f6f3fb"/>
<rect x="336.16" y="398.00" width="10.86" height="10.50" fill="#e2dafa"/>
<rect x="346.52" y="398.00" width="10.86" height="10.50" fill="#f2b29c"/>
<rect x="356.88" y="398.00" width="10.86" height="10.50" fill="#e2dafa"/>
<rect x="367.24" y="398.00" width="10.86" height="10.50" fill="#9a86f2"/>
<rect x="377.60" y="398.00" width="10.86" height="10.50" fill="#0a00f0"/>
<rect x="387.96" y="398.00" width="10.86" height="10.50" fill="#3a2aec"/>
<rect x="398.32" y="398.00" width="10.86" height="10.50" fill="#3a2aec"/>
<rect x="408.68" y="398.00" width="10.86" height="10.50" fill="#e2dafa"/>
<rect x="419.04" y="398.00" width="10.86" height="10.50" fill="#6a55f0"/>
<rect x="429.40" y="398.00" width="10.86" height="10.50" fill="#6a55f0"/>
<rect x="439.76" y="398.00" width="10.86" height="10.50" fill="#ea6a4e"/>
<rect x="450.12" y="398.00" width="10.86" height="10.50" fill="#e2dafa"/>
<rect x="460.48" y="398.00" width="10.86" height="10.50" fill="#e5352b"/>
<rect x="470.84" y="398.00" width="10.86" height="10.50" fill="#f9e0d6"/>
<rect x="481.20" y="398.00" width="10.86" height="10.50" fill="#f2b29c"/>
<rect x="491.56" y="398.00" width="10.86" height="10.50" fill="#f6f3fb"/>
<rect x="501.92" y="398.00" width="10.86" height="10.50" fill="#f2b29c"/>
<rect x="512.28" y="398.00" width="10.86" height="10.50" fill="#f6f3fb"/>
<rect x="522.64" y="398.00" width="10.86" height="10.50" fill="#f9e0d6"/>
<text transform="translate(534.20,215.10) scale(0.1)" font-size="41.0" text-anchor="start" fill="#6a6a6a" stroke="#6a6a6a" stroke-width="0.9" font-family="'Liberation Serif', serif" textLength="121" lengthAdjust="spacingAndGlyphs">P01019</text>
<text transform="translate(534.20,225.10) scale(0.1)" font-size="41.0" text-anchor="start" fill="#6a6a6a" stroke="#6a6a6a" stroke-width="0.9" font-family="'Liberation Serif', serif" textLength="194" lengthAdjust="spacingAndGlyphs">A0A0A0MRZ5</text>
<text transform="translate(534.20,235.10) scale(0.1)" font-size="41.0" text-anchor="start" fill="#6a6a6a" stroke="#6a6a6a" stroke-width="0.9" font-family="'Liberation Serif', serif" textLength="121" lengthAdjust="spacingAndGlyphs">P06702</text>
<text transform="translate(534.20,245.10) scale(0.1)" font-size="41.0" text-anchor="start" fill="#6a6a6a" stroke="#6a6a6a" stroke-width="0.9" font-family="'Liberation Serif', serif" textLength="121" lengthAdjust="spacingAndGlyphs">Q9C7T4</text>
<text transform="translate(534.20,255.10) scale(0.1)" font-size="41.0" text-anchor="start" fill="#6a6a6a" stroke="#6a6a6a" stroke-width="0.9" font-family="'Liberation Serif', serif" textLength="121" lengthAdjust="spacingAndGlyphs">P49747</text>
<text transform="translate(534.20,265.10) scale(0.1)" font-size="41.0" text-anchor="start" fill="#6a6a6a" stroke="#6a6a6a" stroke-width="0.9" font-family="'Liberation Serif', serif" textLength="121" lengthAdjust="spacingAndGlyphs">O75467</text>
<text transform="translate(534.20,275.10) scale(0.1)" font-size="41.0" text-anchor="start" fill="#6a6a6a" stroke="#6a6a6a" stroke-width="0.9" font-family="'Liberation Serif', serif" textLength="121" lengthAdjust="spacingAndGlyphs">Q02818</text>
<text transform="translate(534.20,285.10) scale(0.1)" font-size="41.0" text-anchor="start" fill="#6a6a6a" stroke="#6a6a6a" stroke-width="0.9" font-family="'Liberation Serif', serif" textLength="121" lengthAdjust="spacingAndGlyphs">P00582</text>
<text transform="translate(534.20,295.10) scale(0.1)" font-size="41.0" text-anchor="start" fill="#6a6a6a" stroke="#6a6a6a" stroke-width="0.9" font-family="'Liberation Serif', serif" textLength="121" lengthAdjust="spacingAndGlyphs">P23466</text>
<text transform="translate(534.20,305.10) scale(0.1)" font-size="41.0" text-anchor="start" fill="#6a6a6a" stroke="#6a6a6a" stroke-width="0.9" font-family="'Liberation Serif', serif" textLength="121" lengthAdjust="spacingAndGlyphs">Q86005</text>
<text transform="translate(534.20,315.10) scale(0.1)" font-size="41.0" text-anchor="start" fill="#6a6a6a" stroke="#6a6a6a" stroke-width="0.9" font-family="'Liberation Serif', serif" textLength="121" lengthAdjust="spacingAndGlyphs">P07357</text>
<text transform="translate(534.20,325.10) scale(0.1)" font-size="41.0" text-anchor="start" fill="#6a6a6a" stroke="#6a6a6a" stroke-width="0.9" font-family="'Liberation Serif', serif" textLength="121" lengthAdjust="spacingAndGlyphs">P06396</text>
<text transform="translate(534.20,335.10) scale(0.1)" font-size="41.0" text-anchor="start" fill="#6a6a6a" stroke="#6a6a6a" stroke-width="0.9" font-family="'Liberation Serif', serif" textLength="194" lengthAdjust="spacingAndGlyphs">A0A0C4DH24</text>
<text transform="translate(534.20,345.10) scale(0.1)" font-size="41.0" text-anchor="start" fill="#6a6a6a" stroke="#6a6a6a" stroke-width="0.9" font-family="'Liberation Serif', serif" textLength="121" lengthAdjust="spacingAndGlyphs">P02768</text>
<text transform="translate(534.20,355.10) scale(0.1)" font-size="41.0" text-anchor="start" fill="#6a6a6a" stroke="#6a6a6a" stroke-width="0.9" font-family="'Liberation Serif', serif" textLength="121" lengthAdjust="spacingAndGlyphs">P46789</text>
<text transform="translate(534.20,365.10) scale(0.1)" font-size="41.0" text-anchor="start" fill="#6a6a6a" stroke="#6a6a6a" stroke-width="0.9" font-family="'Liberation Serif', serif" textLength="121" lengthAdjust="spacingAndGlyphs">P07225</text>
<text transform="translate(534.20,375.10) scale(0.1)" font-size="41.0" text-anchor="start" fill="#6a6a6a" stroke="#6a6a6a" stroke-width="0.9" font-family="'Liberation Serif', serif" textLength="121" lengthAdjust="spacingAndGlyphs">P27169</text>
<text transform="translate(534.20,385.10) scale(0.1)" font-size="41.0" text-anchor="start" fill="#6a6a6a" stroke="#6a6a6a" stroke-width="0.9" font-family="'Liberation Serif', serif" textLength="121" lengthAdjust="spacingAndGlyphs">O00391</text>
<text transform="translate(534.20,395.10) scale(0.1)" font-size="41.0" text-anchor="start" fill="#6a6a6a" stroke="#6a6a6a" stroke-width="0.9" font-family="'Liberation Serif', serif" textLength="121" lengthAdjust="spacingAndGlyphs">P10909</text>
<text transform="translate(534.20,405.10) scale(0.1)" font-size="41.0" text-anchor="start" fill="#6a6a6a" stroke="#6a6a6a" stroke-width="0.9" font-family="'Liberation Serif', serif" textLength="121" lengthAdjust="spacingAndGlyphs">P05111</text>
<text transform="translate(368.00,201.00) scale(0.1)" font-size="36.0" text-anchor="middle" fill="#333" stroke="#333" stroke-width="0.9">AMA-QZYSD</text>
<text transform="translate(477.00,201.00) scale(0.1)" font-size="36.0" text-anchor="middle" fill="#333" stroke="#333" stroke-width="0.9">AMA</text>
<path d="M263.30,213.00L325.80,213.00 M263.30,223.00L325.80,223.00 M263.30,213.00L263.30,223.00 M282.70,233.00L325.80,233.00 M296.20,243.00L325.80,243.00 M296.20,253.00L325.80,253.00 M296.20,243.00L296.20,253.00 M291.80,248.00L296.20,248.00 M291.80,263.00L325.80,263.00 M291.80,248.00L291.80,263.00 M282.70,255.50L291.80,255.50 M282.70,233.00L282.70,255.50 M289.40,273.00L325.80,273.00 M289.40,283.00L325.80,283.00 M289.40,273.00L289.40,283.00 M287.20,293.00L325.80,293.00 M287.20,303.00L325.80,303.00 M287.20,293.00L287.20,303.00 M284.50,278.00L289.40,278.00 M284.50,298.00L287.20,298.00 M284.50,278.00L284.50,298.00 M292.00,313.00L325.80,313.00 M292.00,323.00L325.80,323.00 M292.00,313.00L292.00,323.00 M295.10,333.00L325.80,333.00 M295.10,343.00L325.80,343.00 M295.10,333.00L295.10,343.00 M290.70,318.00L292.00,318.00 M290.70,338.00L295.10,338.00 M290.70,318.00L290.70,338.00 M293.30,353.00L325.80,353.00 M293.30,363.00L325.80,363.00 M293.30,353.00L293.30,363.00 M287.00,328.00L290.70,328.00 M287.00,358.00L293.30,358.00 M287.00,328.00L287.00,358.00 M279.50,288.00L284.50,288.00 M279.50,343.00L287.00,343.00 M279.50,288.00L279.50,343.00 M278.50,244.20L282.70,244.20 M278.50,315.50L279.50,315.50 M278.50,244.20L278.50,315.50 M273.20,280.00L278.50,280.00 M273.20,373.00L325.80,373.00 M273.20,280.00L273.20,373.00 M290.10,383.00L325.80,383.00 M290.10,393.00L325.80,393.00 M290.10,383.00L290.10,393.00 M283.30,388.00L290.10,388.00 M283.30,403.00L325.80,403.00 M283.30,388.00L283.30,403.00 M272.40,326.60L273.20,326.60 M272.40,395.70L283.30,395.70 M272.40,326.60L272.40,395.70 M256.60,218.00L263.30,218.00 M256.60,361.00L272.40,361.00 M256.60,218.00L256.60,361.00" stroke="#1a1a1a" stroke-width="0.9" fill="none" stroke-linecap="square"/>
<defs><linearGradient id="hg" x1="0" x2="1" y1="0" y2="0"><stop offset="0" stop-color="#1a10e8"/><stop offset="0.5" stop-color="#ffffff"/><stop offset="1" stop-color="#e8352a"/></linearGradient></defs>
<rect x="373" y="411.3" width="69.8" height="5.7" fill="url(#hg)"/>
<line x1="373.00" y1="411.30" x2="373.00" y2="412.60" stroke="#fff" stroke-width="0.5"/>
<line x1="373.00" y1="415.70" x2="373.00" y2="417.00" stroke="#fff" stroke-width="0.5"/>
<line x1="390.80" y1="411.30" x2="390.80" y2="412.60" stroke="#fff" stroke-width="0.5"/>
<line x1="390.80" y1="415.70" x2="390.80" y2="417.00" stroke="#fff" stroke-width="0.5"/>
<line x1="408.30" y1="411.30" x2="408.30" y2="412.60" stroke="#fff" stroke-width="0.5"/>
<line x1="408.30" y1="415.70" x2="408.30" y2="417.00" stroke="#fff" stroke-width="0.5"/>
<line x1="425.50" y1="411.30" x2="425.50" y2="412.60" stroke="#fff" stroke-width="0.5"/>
<line x1="425.50" y1="415.70" x2="425.50" y2="417.00" stroke="#fff" stroke-width="0.5"/>
<line x1="442.80" y1="411.30" x2="442.80" y2="412.60" stroke="#fff" stroke-width="0.5"/>
<line x1="442.80" y1="415.70" x2="442.80" y2="417.00" stroke="#fff" stroke-width="0.5"/>
<text transform="translate(374.00,423.00) scale(0.1)" font-size="46.0" text-anchor="middle" fill="#444" stroke="#444" stroke-width="0.9" font-family="'Liberation Serif', serif">-1</text>
<text transform="translate(391.60,423.00) scale(0.1)" font-size="46.0" text-anchor="middle" fill="#444" stroke="#444" stroke-width="0.9" font-family="'Liberation Serif', serif">-0.5</text>
<text transform="translate(408.30,423.00) scale(0.1)" font-size="46.0" text-anchor="middle" fill="#444" stroke="#444" stroke-width="0.9" font-family="'Liberation Serif', serif">0</text>
<text transform="translate(424.60,423.00) scale(0.1)" font-size="46.0" text-anchor="middle" fill="#444" stroke="#444" stroke-width="0.9" font-family="'Liberation Serif', serif">0.5</text>
<text transform="translate(442.00,423.00) scale(0.1)" font-size="46.0" text-anchor="middle" fill="#444" stroke="#444" stroke-width="0.9" font-family="'Liberation Serif', serif">1</text>
</svg></div></body></html>
